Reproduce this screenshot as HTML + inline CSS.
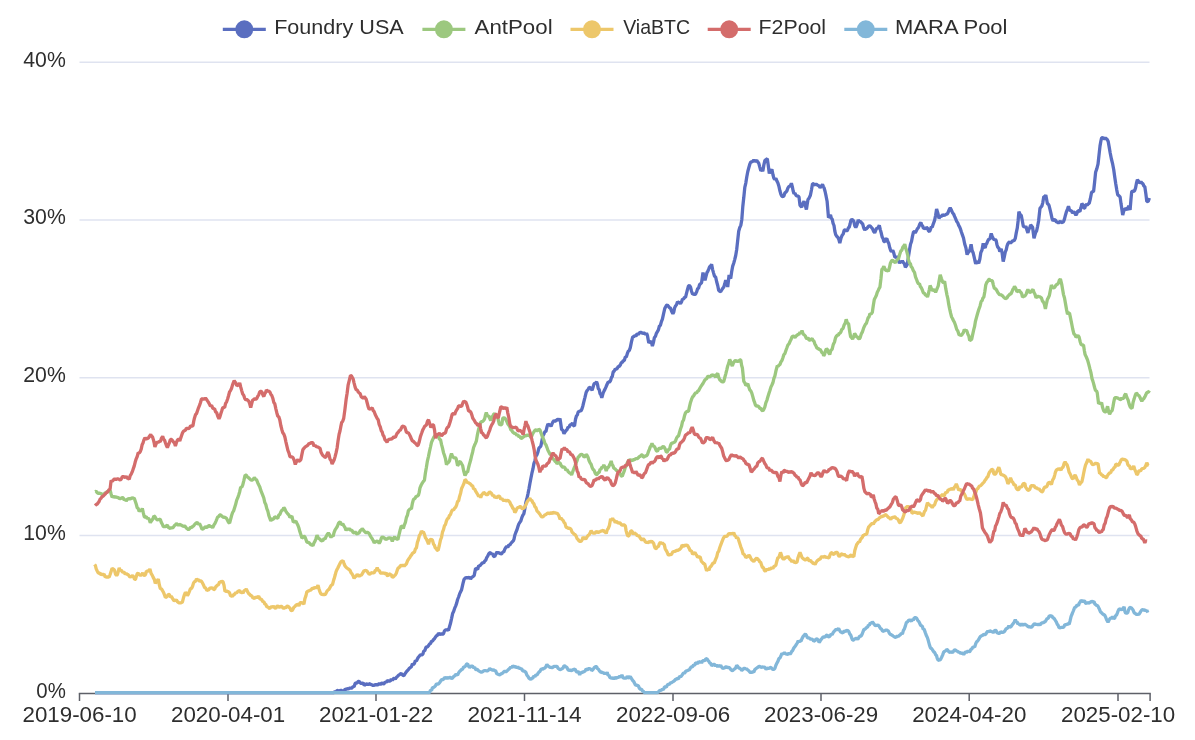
<!DOCTYPE html>
<html><head><meta charset="utf-8"><title>Pool share</title>
<style>
html,body{margin:0;padding:0;background:#fff;}
body{width:1195px;height:740px;overflow:hidden;}
svg{display:block}
.ax{font-family:"Liberation Sans","DejaVu Sans",sans-serif;font-size:21.5px;fill:#2e2e2e;}
.lg{font-family:"Liberation Sans","DejaVu Sans",sans-serif;font-size:21px;fill:#2e2e2e;}
</style></head><body>
<svg width="1195" height="740" viewBox="0 0 1195 740">
<rect width="1195" height="740" fill="#fff"/>
<line x1="79.5" x2="1149.5" y1="62.2" y2="62.2" stroke="#dfe3f0" stroke-width="1.5"/><line x1="79.5" x2="1149.5" y1="220" y2="220" stroke="#dfe3f0" stroke-width="1.5"/><line x1="79.5" x2="1149.5" y1="377.8" y2="377.8" stroke="#dfe3f0" stroke-width="1.5"/><line x1="79.5" x2="1149.5" y1="535.4" y2="535.4" stroke="#dfe3f0" stroke-width="1.5"/>
<line x1="78.8" x2="1150.8" y1="693.5" y2="693.5" stroke="#5e6068" stroke-width="1.5"/>
<line x1="79.5" x2="79.5" y1="693.5" y2="701" stroke="#5e6068" stroke-width="1.5"/><line x1="228" x2="228" y1="693.5" y2="701" stroke="#5e6068" stroke-width="1.5"/><line x1="376" x2="376" y1="693.5" y2="701" stroke="#5e6068" stroke-width="1.5"/><line x1="524.5" x2="524.5" y1="693.5" y2="701" stroke="#5e6068" stroke-width="1.5"/><line x1="673" x2="673" y1="693.5" y2="701" stroke="#5e6068" stroke-width="1.5"/><line x1="821" x2="821" y1="693.5" y2="701" stroke="#5e6068" stroke-width="1.5"/><line x1="969.2" x2="969.2" y1="693.5" y2="701" stroke="#5e6068" stroke-width="1.5"/><line x1="1118" x2="1118" y1="693.5" y2="701" stroke="#5e6068" stroke-width="1.5"/><line x1="1150.1" x2="1150.1" y1="693.5" y2="701" stroke="#5e6068" stroke-width="1.5"/>
<text x="23.299999999999997" y="66.6" class="ax" textLength="42.5" lengthAdjust="spacingAndGlyphs">40%</text><text x="23.299999999999997" y="224.4" class="ax" textLength="42.5" lengthAdjust="spacingAndGlyphs">30%</text><text x="23.299999999999997" y="382.2" class="ax" textLength="42.5" lengthAdjust="spacingAndGlyphs">20%</text><text x="23.299999999999997" y="539.8" class="ax" textLength="42.5" lengthAdjust="spacingAndGlyphs">10%</text><text x="36.3" y="697.5" class="ax" textLength="29.5" lengthAdjust="spacingAndGlyphs">0%</text>
<text x="22.5" y="721.5" class="ax" textLength="114.2" lengthAdjust="spacingAndGlyphs">2019-06-10</text><text x="171.0" y="721.5" class="ax" textLength="114.2" lengthAdjust="spacingAndGlyphs">2020-04-01</text><text x="319.0" y="721.5" class="ax" textLength="114.2" lengthAdjust="spacingAndGlyphs">2021-01-22</text><text x="467.5" y="721.5" class="ax" textLength="114.2" lengthAdjust="spacingAndGlyphs">2021-11-14</text><text x="616.0" y="721.5" class="ax" textLength="114.2" lengthAdjust="spacingAndGlyphs">2022-09-06</text><text x="764.0" y="721.5" class="ax" textLength="114.2" lengthAdjust="spacingAndGlyphs">2023-06-29</text><text x="912.2" y="721.5" class="ax" textLength="114.2" lengthAdjust="spacingAndGlyphs">2024-04-20</text><text x="1061.0" y="721.5" class="ax" textLength="114.2" lengthAdjust="spacingAndGlyphs">2025-02-10</text>
<polyline points="95,692.6 96.0,692.6 97.0,692.6 98.0,692.6 99.0,692.6 100.0,692.6 101.0,692.6 102.0,692.6 103.0,692.6 104.0,692.6 105.0,692.6 106.0,692.6 107.0,692.6 108.0,692.6 109.0,692.6 110.0,692.6 111.0,692.6 112.0,692.6 113.0,692.6 114.0,692.6 115.0,692.6 116.0,692.6 117.0,692.6 118.0,692.6 119.0,692.6 120.0,692.6 121.0,692.6 122.0,692.6 123.0,692.6 124.0,692.6 125.0,692.6 126.0,692.6 127.0,692.6 128.0,692.6 129.0,692.6 130.0,692.6 131.0,692.6 132.0,692.6 133.0,692.6 134.0,692.6 135.0,692.6 136.0,692.6 137.0,692.6 138.0,692.6 139.0,692.6 140.0,692.6 141.0,692.6 142.0,692.6 143.0,692.6 144.0,692.6 145.0,692.6 146.0,692.6 147.0,692.6 148.0,692.6 149.0,692.6 150.0,692.6 151.0,692.6 152.0,692.6 153.0,692.6 154.0,692.6 155.0,692.6 156.0,692.6 157.0,692.6 158.0,692.6 159.0,692.6 160.0,692.6 161.0,692.6 162.0,692.6 163.0,692.6 164.0,692.6 165.0,692.6 166.0,692.6 167.0,692.6 168.0,692.6 169.0,692.6 170.0,692.6 171.0,692.6 172.0,692.6 173.0,692.6 174.0,692.6 175.0,692.6 176.0,692.6 177.0,692.6 178.0,692.6 179.0,692.6 180.0,692.6 181.0,692.6 182.0,692.6 183.0,692.6 184.0,692.6 185.0,692.6 186.0,692.6 187.0,692.6 188.0,692.6 189.0,692.6 190.0,692.6 191.0,692.6 192.0,692.6 193.0,692.6 194.0,692.6 195.0,692.6 196.0,692.6 197.0,692.6 198.0,692.6 199.0,692.6 200.0,692.6 201.0,692.6 202.0,692.6 203.0,692.6 204.0,692.6 205.0,692.6 206.0,692.6 207.0,692.6 208.0,692.6 209.0,692.6 210.0,692.6 211.0,692.6 212.0,692.6 213.0,692.6 214.0,692.6 215.0,692.6 216.0,692.6 217.0,692.6 218.0,692.6 219.0,692.6 220.0,692.6 221.0,692.6 222.0,692.6 223.0,692.6 224.0,692.6 225.0,692.6 226.0,692.6 227.0,692.6 228.0,692.6 229.0,692.6 230.0,692.6 231.0,692.6 232.0,692.6 233.0,692.6 234.0,692.6 235.0,692.6 236.0,692.6 237.0,692.6 238.0,692.6 239.0,692.6 240.0,692.6 241.0,692.6 242.0,692.6 243.0,692.6 244.0,692.6 245.0,692.6 246.0,692.6 247.0,692.6 248.0,692.6 249.0,692.6 250.0,692.6 251.0,692.6 252.0,692.6 253.0,692.6 254.0,692.6 255.0,692.6 256.0,692.6 257.0,692.6 258.0,692.6 259.0,692.6 260.0,692.6 261.0,692.6 262.0,692.6 263.0,692.6 264.0,692.6 265.0,692.6 266.0,692.6 267.0,692.6 268.0,692.6 269.0,692.6 270.0,692.6 271.0,692.6 272.0,692.6 273.0,692.6 274.0,692.6 275.0,692.6 276.0,692.6 277.0,692.6 278.0,692.6 279.0,692.6 280.0,692.6 281.0,692.6 282.0,692.6 283.0,692.6 284.0,692.6 285.0,692.6 286.0,692.6 287.0,692.6 288.0,692.6 289.0,692.6 290.0,692.6 291.0,692.6 292.0,692.6 293.0,692.6 294.0,692.6 295.0,692.6 296.0,692.6 297.0,692.6 298.0,692.6 299.0,692.6 300.0,692.6 301.0,692.6 302.0,692.6 303.0,692.6 304.0,692.6 305.0,692.6 306.0,692.6 307.0,692.6 308.0,692.6 309.0,692.6 310.0,692.6 311.0,692.6 312.0,692.6 313.0,692.6 314.0,692.6 315.0,692.6 316.0,692.6 317.0,692.6 318.0,692.6 319.0,692.6 320.0,692.6 321.0,692.6 322.0,692.6 323.0,692.6 324.0,692.6 325.0,692.6 326.0,692.6 327.0,692.6 328.0,692.6 329.0,692.6 330.0,692.6 331.0,692.6 332.0,692.6 333.0,692.6 334.0,692.6 335.1,691.3 336.1,691.9 337.1,690.5 338.1,690.6 339.1,691.9 340.1,690.6 341.1,690.2 342.1,690.8 343.1,691.0 344.1,690.6 345.1,689.2 346.1,689.5 347.1,688.7 348.1,688.8 349.1,688.6 350.1,687.6 351.1,688.6 352.1,687.7 353.1,686.6 354.1,686.7 355.1,683.5 356.1,682.9 357.2,683.0 358.2,681.4 359.2,681.3 360.2,682.9 361.2,683.5 362.2,683.2 363.2,683.0 364.2,685.4 365.2,684.5 366.2,684.1 367.2,683.8 368.2,684.9 369.2,683.7 370.2,684.0 371.2,684.7 372.2,684.9 373.2,685.8 374.2,684.9 375.2,685.1 376.2,684.1 377.2,685.1 378.2,684.5 379.2,683.4 380.3,684.6 381.3,683.4 382.3,683.1 383.3,683.9 384.3,683.4 385.3,681.8 386.3,682.5 387.3,680.5 388.3,681.0 389.3,681.1 390.3,681.2 391.3,678.9 392.3,680.4 393.3,678.8 394.3,678.0 395.3,679.1 396.3,677.5 397.5,676.4 398.7,675.1 399.6,674.6 400.4,673.8 401.3,673.5 402.2,674.6 403.0,675.4 403.9,675.6 405.1,673.6 406.4,671.8 407.4,670.6 408.4,669.6 409.4,668.3 410.4,667.5 411.4,666.7 412.4,663.9 413.4,664.4 414.4,663.5 415.4,660.5 416.4,660.9 417.4,658.9 418.4,657.2 419.4,656.0 420.4,654.8 421.6,654.9 422.8,654.3 423.8,651.0 424.8,650.7 425.7,647.9 426.5,646.9 427.4,647.0 428.4,645.8 429.5,644.0 430.5,643.5 431.5,641.3 432.5,641.2 433.5,639.6 434.5,638.7 435.5,637.0 436.5,635.7 437.5,635.2 438.5,633.2 439.5,634.0 440.5,634.5 441.5,633.6 442.5,634.4 443.5,633.7 444.5,630.8 445.5,629.8 446.5,629.8 447.5,629.7 448.5,630.2 449.5,626.7 450.5,623.3 451.6,618.3 452.6,613.6 453.6,611.6 454.6,608.4 455.6,606.1 456.6,603.4 457.6,599.5 458.6,597.0 459.6,593.9 460.6,591.8 461.6,589.7 463.0,583.4 464.0,579.5 465.0,578.2 465.9,577.5 466.8,578.0 467.7,577.6 468.6,578.0 469.6,577.0 470.6,579.1 471.6,577.5 472.5,576.9 473.3,576.3 474.2,575.3 475.6,568.4 476.6,568.8 477.7,569.2 478.7,565.8 479.7,565.9 480.7,564.8 481.7,563.6 482.7,562.5 483.7,562.8 484.7,561.1 485.7,560.3 486.7,557.7 487.7,556.2 488.7,553.9 489.7,552.8 490.6,552.5 491.4,554.5 492.3,553.4 493.5,556.0 494.7,556.7 495.9,553.8 497.1,551.8 498.0,553.7 498.8,552.5 499.7,553.3 500.8,553.9 501.8,553.6 502.8,552.0 503.8,551.9 504.8,549.2 505.8,547.5 506.8,546.5 507.8,547.3 508.8,544.8 509.8,545.2 510.8,543.5 512.0,542.2 513.2,540.9 514.0,539.3 514.8,535.3 515.8,532.5 516.8,530.2 517.8,526.9 518.8,524.0 519.8,522.4 520.8,521.0 521.8,517.7 522.8,515.3 523.8,513.9 524.8,509.0 525.9,502.2 526.9,498.8 527.9,494.1 528.9,489.1 529.9,483.5 530.9,478.2 531.9,473.2 532.9,469.2 533.9,463.6 534.9,460.7 535.9,456.2 536.9,454.8 537.9,452.2 538.9,448.2 539.9,447.2 540.9,445.9 541.9,440.7 542.9,435.7 543.9,434.1 544.9,431.7 545.9,431.5 546.9,427.3 547.9,423.9 548.9,425.0 550.0,424.8 551.0,426.4 552.0,423.9 553.0,421.8 554.0,420.6 555.0,421.4 556.0,420.7 557.0,419.8 558.0,419.3 559.0,420.1 560.0,418.6 560.8,423.9 561.6,429.4 562.8,430.3 564.0,433.8 565.0,432.0 566.0,430.6 567.0,429.7 568.0,427.1 569.0,427.4 570.0,424.9 571.2,424.7 572.5,423.0 573.5,425.5 574.5,426.1 575.5,419.3 576.5,415.8 577.4,414.9 578.2,411.8 579.1,411.5 580.1,410.8 581.1,410.8 582.0,408.8 582.8,406.2 583.7,402.3 584.9,397.6 586.1,392.6 587.1,390.6 588.1,389.5 589.1,387.6 590.1,387.5 591.1,388.7 592.1,390.3 593.1,387.0 594.1,383.8 595.4,383.1 596.6,381.9 597.5,384.4 598.3,388.7 599.2,389.7 600.1,393.8 600.9,394.8 601.8,397.7 603.2,392.9 604.1,390.9 604.9,389.4 605.8,387.4 607.0,384.5 608.2,381.8 609.4,382.2 610.6,380.5 611.5,377.4 612.3,376.4 613.2,371.9 614.2,371.1 615.2,369.0 616.2,369.3 617.2,368.5 618.2,366.5 619.2,366.6 620.3,365.1 621.3,362.5 622.3,362.4 623.3,360.6 624.3,360.5 625.3,356.9 626.3,356.9 627.3,353.7 628.3,351.2 629.3,350.4 630.3,347.6 631.5,341.7 632.7,336.9 633.8,336.7 634.8,335.4 635.9,336.2 637.1,333.7 638.3,334.4 639.5,332.8 640.7,332.3 641.8,332.8 642.8,333.5 643.9,332.9 644.8,333.6 645.6,334.5 646.5,333.1 647.4,335.4 648.8,343.0 649.8,341.9 650.8,341.4 651.6,342.8 652.4,346.0 653.4,342.6 654.4,337.5 655.4,336.4 656.4,333.3 657.4,331.6 658.4,329.9 659.4,326.0 660.4,325.3 661.4,321.6 662.4,319.1 663.6,313.6 664.8,308.4 665.7,306.8 666.5,305.4 667.4,304.8 668.4,306.3 669.5,307.7 670.5,308.1 671.7,311.5 672.9,313.8 673.8,312.0 674.6,307.9 675.5,306.0 676.5,304.8 677.5,301.8 678.5,302.7 679.5,302.4 680.5,303.7 681.5,302.0 682.5,299.0 683.5,299.2 684.5,297.3 685.5,297.3 686.5,293.4 687.5,289.4 688.5,285.9 689.5,285.4 690.5,287.0 691.5,291.2 692.6,294.2 693.6,294.0 694.6,294.6 695.6,294.0 696.6,291.9 697.6,288.8 698.6,287.9 699.6,284.6 700.6,283.8 701.6,282.6 703.0,272.5 704.0,276.9 705.0,280.3 706.0,276.4 707.0,272.5 707.9,271.2 708.7,269.2 709.6,266.9 710.6,266.1 711.6,264.3 712.6,269.6 713.6,273.1 714.6,276.5 715.6,276.8 716.6,281.5 717.7,285.5 718.7,290.3 719.7,291.2 720.7,291.6 721.7,290.0 722.7,288.3 723.7,287.2 724.7,284.1 725.7,280.2 726.7,282.3 727.7,287.0 729.1,275.0 729.9,277.5 730.7,278.5 731.7,271.5 732.7,266.1 733.7,263.2 734.7,259.6 735.7,255.5 736.7,249.4 737.7,240.4 738.7,231.3 739.7,227.8 740.8,225.4 741.8,219.7 742.8,206.5 743.8,197.3 744.8,187.4 745.8,183.1 746.8,176.8 747.8,171.5 748.8,167.8 749.8,164.2 750.8,161.9 751.8,161.9 752.8,161.3 753.8,160.0 754.8,161.2 755.8,161.2 756.8,160.4 757.8,162.0 758.8,163.3 759.8,167.1 760.8,170.8 761.8,169.7 762.8,171.1 763.8,165.2 764.9,160.5 766.1,159.5 767.3,158.7 768.3,165.8 769.3,173.5 770.2,171.0 771.0,170.8 771.9,169.2 772.9,174.5 773.9,178.3 774.9,179.6 775.9,178.2 776.9,181.1 777.9,183.1 778.9,186.2 779.9,190.8 780.9,194.2 781.9,196.2 782.9,196.6 783.9,196.1 784.9,192.8 785.9,192.1 786.9,190.9 788.0,187.8 789.0,186.3 790.2,186.2 791.4,183.3 792.3,186.6 793.1,190.8 794.0,193.7 795.0,193.0 796.0,195.5 797.0,195.9 798.0,196.2 799.0,196.9 800.0,205.4 800.8,206.2 801.6,207.2 802.8,203.8 804.0,201.3 805.2,205.1 806.4,209.5 807.2,204.2 808.0,199.5 809.2,197.9 810.4,195.3 811.5,189.7 812.5,183.8 813.4,183.7 814.2,184.9 815.1,184.5 816.0,184.2 816.8,184.6 817.7,185.3 818.9,185.8 820.1,187.7 821.3,186.1 822.5,184.4 823.4,186.6 824.2,188.3 825.1,191.5 826.1,196.2 827.1,201.2 828.5,217.7 829.5,216.7 830.5,214.9 831.4,218.4 832.2,219.2 833.1,223.3 834.0,225.5 834.8,231.0 835.7,234.6 836.8,236.4 837.8,237.2 838.8,239.4 839.8,243.2 841.0,238.1 842.2,235.2 843.2,234.0 844.2,230.2 845.4,229.9 846.6,230.9 847.5,230.3 848.3,227.9 849.2,227.2 850.1,224.0 850.9,220.4 851.8,219.5 852.8,220.0 853.8,221.3 854.8,225.8 855.8,227.5 857.0,224.8 858.2,220.0 859.5,221.5 860.7,221.7 861.7,223.1 862.7,224.0 863.7,227.8 864.7,230.0 865.6,228.9 866.4,228.8 867.3,227.9 868.3,226.6 869.3,225.7 870.3,226.2 871.5,227.5 872.7,229.1 873.7,231.5 874.7,232.8 875.6,230.6 876.4,228.6 877.3,228.2 878.3,227.4 879.3,225.3 880.3,229.6 881.3,233.3 882.2,237.1 883.0,238.4 883.9,241.6 884.9,241.7 885.8,239.4 886.8,238.6 887.8,241.5 888.8,243.5 889.7,247.6 890.5,250.1 891.4,251.6 892.8,250.4 893.8,253.1 894.8,257.0 895.7,257.2 896.5,257.6 897.4,256.3 898.4,259.7 899.4,263.2 900.4,261.3 901.4,262.2 902.4,260.9 903.4,262.6 904.4,263.7 905.4,267.2 906.4,265.8 907.4,264.1 908.5,256.3 909.5,249.9 910.5,244.3 911.5,241.5 912.5,236.1 913.5,231.8 914.4,231.6 915.2,232.8 916.1,231.4 917.3,228.9 918.5,227.5 919.7,224.2 920.9,222.5 921.8,225.3 922.6,225.9 923.5,228.4 924.5,228.3 925.5,228.7 926.5,227.4 927.5,228.2 928.5,230.8 929.5,231.6 930.4,229.5 931.3,226.9 932.2,227.3 933.4,223.6 934.6,220.4 935.6,215.5 936.6,209.1 937.8,212.9 939.0,218.4 939.9,216.6 940.7,216.1 941.6,216.3 942.6,214.6 943.6,215.3 944.6,215.1 945.6,214.7 946.6,214.1 947.6,213.7 948.5,211.3 949.3,209.3 950.2,207.9 951.4,210.1 952.6,212.9 953.6,214.0 954.6,216.4 955.7,218.9 956.7,221.5 957.7,222.7 958.7,225.4 959.7,227.1 960.6,229.4 961.4,232.0 962.3,234.6 963.5,238.0 964.7,244.0 965.9,247.7 967.1,254.6 968.1,252.6 969.1,251.6 970.1,249.2 971.1,244.3 972.1,250.5 973.1,252.7 974.0,256.3 974.8,260.0 975.7,263.8 976.7,262.0 977.7,262.1 978.7,263.3 979.8,259.3 980.8,252.7 982.0,250.0 983.2,243.4 984.2,246.6 985.2,247.9 986.1,244.2 986.9,243.3 987.8,240.8 988.8,239.1 989.8,239.4 991.2,233.5 992.2,236.4 993.2,238.3 994.2,240.0 995.2,239.4 996.1,240.3 996.9,244.4 997.8,247.3 998.8,247.9 999.8,251.7 1001.2,248.8 1002.2,253.5 1003.2,261.6 1004.2,257.3 1005.3,251.9 1006.2,249.8 1007.0,246.1 1007.9,243.7 1008.8,242.4 1009.6,241.9 1010.5,243.2 1011.7,241.9 1012.9,240.5 1014.1,240.9 1015.3,238.3 1016.3,232.6 1017.3,227.9 1018.1,221.0 1018.9,211.7 1020.1,214.4 1021.3,215.5 1022.3,220.7 1023.3,226.2 1024.2,226.7 1025.0,227.2 1025.9,226.3 1026.9,230.0 1027.9,232.9 1028.8,229.3 1029.7,228.1 1030.6,225.0 1031.6,226.0 1032.6,227.3 1034.0,238.3 1034.9,235.1 1035.7,232.3 1036.6,230.8 1037.6,226.3 1038.6,221.0 1040.0,208.3 1040.9,207.2 1041.8,206.2 1042.8,202.6 1043.8,196.6 1044.8,196.6 1045.8,195.1 1046.6,199.3 1047.4,203.7 1048.2,204.1 1049.0,205.4 1050.0,209.3 1051.0,213.6 1052.0,218.4 1053.0,220.8 1054.2,219.6 1055.4,220.0 1056.4,222.0 1057.4,222.2 1058.4,223.0 1059.4,222.1 1060.4,221.0 1061.4,222.6 1062.5,222.2 1063.5,221.7 1064.5,218.9 1065.5,214.9 1066.5,211.6 1067.5,209.1 1068.5,206.2 1069.5,209.9 1070.5,210.5 1071.5,210.8 1072.5,213.1 1073.5,211.9 1074.7,212.5 1075.9,215.3 1076.9,213.4 1077.9,210.7 1078.9,210.9 1079.9,211.5 1080.9,207.8 1081.9,203.6 1082.9,204.9 1083.9,208.1 1084.8,208.1 1085.6,204.7 1086.5,204.8 1087.4,204.9 1088.3,203.7 1089.2,203.4 1090.4,198.5 1091.6,192.3 1092.6,191.8 1093.6,191.3 1094.6,182.2 1095.6,172.3 1096.8,168.8 1098.0,164.2 1099.0,155.1 1100.0,146.1 1100.8,141.5 1101.6,137.9 1102.6,137.7 1103.6,138.1 1104.6,138.9 1105.5,138.0 1106.3,138.7 1107.2,139.5 1108.2,141.5 1109.2,147.1 1110.2,153.0 1111.3,158.5 1112.5,163.3 1113.7,169.5 1114.7,176.8 1115.7,183.6 1116.7,189.6 1117.7,194.7 1118.9,195.8 1120.1,196.9 1121.0,203.6 1121.8,208.8 1122.7,215.1 1123.7,211.2 1124.7,209.1 1125.6,208.8 1126.4,208.7 1127.3,209.9 1128.7,205.8 1130.1,209.9 1130.9,200.2 1131.7,191.7 1132.7,191.1 1133.7,191.3 1134.7,190.6 1135.6,187.8 1136.5,183.0 1137.4,179.7 1138.6,181.2 1139.8,183.1 1141.0,181.9 1142.2,183.3 1143.1,184.1 1143.9,186.2 1144.8,186.5 1145.8,193.4 1146.8,201.5 1148.2,201.4 1149.4,198.0" fill="none" stroke="#5a6ec0" stroke-width="3.3" stroke-linejoin="bevel" stroke-linecap="butt"/>
<polyline points="95.1,491.7 96.1,491.2 97.1,492.7 98.1,493.3 99.1,493.0 100.1,493.4 101.1,493.7 102.1,494.5 103.1,494.2 104.1,494.0 105.1,492.8 106.1,492.9 107.1,491.6 108.1,491.5 109.1,491.1 110.1,490.2 111.1,494.0 112.1,497.2 113.1,496.4 114.2,497.2 115.2,496.7 116.2,497.2 117.2,497.4 118.2,497.6 119.2,498.4 120.2,498.6 121.2,498.2 122.2,497.5 123.2,497.8 124.2,500.1 125.2,499.4 126.2,501.0 127.2,499.6 128.2,498.7 129.2,499.0 130.2,498.4 131.2,498.9 132.2,497.4 133.2,498.5 134.2,498.1 135.2,501.0 136.2,504.0 137.2,507.7 138.2,508.6 139.2,511.6 140.2,510.1 141.3,510.8 142.3,508.4 143.3,512.9 144.3,516.8 145.3,517.1 146.3,516.6 147.3,518.7 148.3,518.0 149.3,519.7 150.3,522.8 151.2,521.2 152.1,520.0 153.0,518.6 153.9,515.9 155.0,516.8 156.2,519.0 157.3,519.8 158.3,519.7 159.3,519.5 160.3,519.2 161.3,522.4 162.3,524.2 163.3,526.5 164.3,526.6 165.4,526.6 166.4,525.8 167.4,525.3 168.4,527.5 169.4,527.9 170.4,528.4 171.4,527.4 172.4,527.9 173.4,527.1 174.4,525.6 175.4,524.9 176.4,523.6 177.4,524.3 178.4,525.3 179.4,524.3 180.4,524.7 181.4,525.2 182.4,525.8 183.4,526.4 184.4,525.9 185.4,526.6 186.4,528.2 187.4,528.8 188.4,529.6 189.5,528.7 190.5,527.3 191.5,527.6 192.5,526.7 193.5,526.0 194.5,524.6 195.5,523.6 196.5,522.8 197.5,522.5 198.5,524.6 199.5,523.6 200.4,525.4 201.2,527.2 202.1,529.2 203.2,529.0 204.4,527.7 205.5,526.5 206.5,527.4 207.5,527.0 208.5,525.6 209.5,525.7 210.6,526.9 211.6,526.2 212.6,527.8 213.8,525.2 215.0,523.4 215.9,521.3 216.7,519.4 217.6,517.2 218.6,516.6 219.6,515.0 220.6,515.0 221.6,515.9 222.6,516.7 223.6,517.5 224.6,517.2 225.6,517.7 226.6,518.6 227.6,520.5 228.6,522.4 229.6,523.1 230.6,519.3 231.6,515.5 232.6,512.5 233.6,510.9 234.6,507.7 235.6,504.6 236.7,500.1 237.7,497.9 238.7,494.9 239.7,491.7 240.7,487.0 241.7,487.2 242.7,485.1 243.9,480.4 245.1,475.0 246.2,475.2 247.2,476.9 248.3,477.5 249.3,478.4 250.3,479.5 251.3,480.2 252.3,480.1 253.3,479.1 254.3,477.6 255.4,479.1 256.6,479.9 257.7,482.7 258.7,484.8 259.8,487.0 260.8,490.4 261.8,492.9 262.8,495.4 263.8,498.0 264.8,502.6 265.8,504.5 266.8,508.7 267.8,511.0 268.8,515.4 269.8,518.2 270.8,520.8 271.8,519.2 272.8,519.3 273.8,518.6 274.8,516.9 275.8,517.2 276.8,518.0 277.8,518.2 278.8,515.0 279.8,514.5 280.8,512.1 281.8,510.2 282.8,510.1 283.8,507.5 284.8,508.8 285.9,511.4 286.9,512.8 287.9,514.1 288.9,515.0 289.9,517.5 290.9,516.8 291.9,516.1 293.3,522.2 294.2,521.7 295.0,521.6 295.9,521.2 296.9,523.3 297.9,525.2 298.9,528.0 299.9,531.8 300.9,534.7 301.9,538.1 302.9,537.3 303.9,536.0 304.9,536.9 305.9,539.4 306.9,542.2 307.9,542.4 308.9,542.4 309.9,543.7 311.0,544.9 312.0,544.9 313.0,545.7 314.0,542.8 315.0,541.1 316.0,538.5 317.0,535.1 318.0,537.3 319.0,538.9 320.0,538.9 321.0,540.8 322.0,540.6 323.0,540.4 324.0,538.6 325.0,539.0 326.0,536.8 327.2,534.5 328.4,532.9 329.3,534.2 330.1,536.0 331.0,537.3 332.1,535.6 333.1,536.4 334.1,532.4 335.1,529.8 336.1,528.3 337.3,526.5 338.5,523.4 339.4,522.3 340.2,522.0 341.1,524.0 342.0,524.6 342.8,523.7 343.7,525.6 344.9,527.4 346.1,530.5 347.1,528.3 348.1,529.9 349.1,528.5 350.1,530.0 351.1,530.2 352.1,530.5 353.1,532.5 354.1,532.8 355.1,531.8 356.1,533.2 357.2,534.2 358.2,533.1 359.2,532.8 360.2,530.7 361.2,530.0 362.2,528.7 363.2,529.8 364.2,531.2 365.2,532.2 366.2,532.7 367.2,532.3 368.2,532.8 369.2,533.6 370.2,535.7 371.2,537.4 372.2,538.8 373.2,540.5 374.2,542.7 375.2,541.9 376.2,541.4 377.2,540.9 378.2,541.8 379.2,543.3 380.2,541.7 381.3,538.2 382.3,536.8 383.3,537.7 384.3,537.7 385.3,539.5 386.3,538.9 387.3,539.0 388.3,537.9 389.3,538.3 390.3,537.5 391.3,538.6 392.3,541.4 393.5,538.3 394.7,536.7 395.8,538.7 396.8,538.9 397.9,539.7 399.3,533.5 400.3,529.4 401.3,526.1 402.3,526.5 403.3,528.4 404.4,524.8 405.4,522.3 406.4,517.5 407.4,515.3 408.4,510.7 409.4,509.7 410.4,508.4 411.4,508.9 412.4,503.3 413.4,499.6 414.3,498.9 415.1,498.4 416.0,496.5 417.2,496.2 418.4,495.3 419.2,492.4 420.0,487.8 421.2,485.0 422.4,482.9 423.4,481.4 424.4,480.2 425.4,473.0 426.4,467.3 427.4,461.1 428.5,456.3 429.5,451.4 430.5,447.0 431.5,442.4 432.5,440.0 433.7,437.5 434.9,435.6 435.8,435.0 436.6,434.5 437.5,435.1 438.5,436.7 439.5,439.4 440.5,439.5 441.5,444.4 442.5,448.2 443.5,452.7 444.5,455.5 445.5,458.9 446.5,464.8 447.5,462.8 448.5,462.4 449.5,460.9 450.5,456.5 451.5,453.6 452.4,456.1 453.3,457.1 454.2,458.0 455.2,457.4 456.2,458.8 457.6,465.7 458.5,464.4 459.3,461.9 460.2,461.6 461.4,463.5 462.6,465.5 463.8,471.3 465.0,475.5 465.9,473.9 466.7,472.0 467.6,472.1 468.6,467.5 469.6,463.7 470.6,460.3 471.6,455.9 472.6,452.2 473.6,447.5 474.5,445.3 475.4,443.4 476.3,441.2 477.5,434.3 478.7,428.9 479.7,425.8 480.7,422.3 481.7,421.6 482.7,421.3 483.7,420.3 484.6,419.0 485.4,415.3 486.3,412.6 487.5,416.0 488.7,415.8 489.7,418.3 490.7,420.5 491.7,416.9 492.7,416.5 493.7,414.3 494.7,413.5 495.7,415.2 496.7,415.0 497.6,416.9 498.4,420.3 499.3,424.2 500.6,424.9 501.8,424.5 502.8,418.1 503.8,417.9 504.8,418.1 505.8,419.4 506.8,421.5 507.8,424.0 508.8,425.2 509.8,426.8 510.8,429.7 511.8,430.5 512.8,432.2 513.8,432.9 514.8,433.4 515.8,433.8 516.8,435.3 517.8,434.7 518.8,436.7 519.8,436.4 520.8,438.2 521.8,438.3 522.8,437.3 523.9,436.6 524.9,435.7 525.9,435.9 526.9,435.0 527.9,435.5 528.9,435.0 529.9,435.8 530.9,437.7 531.9,435.7 532.9,433.3 533.9,431.9 534.9,430.3 535.9,429.9 536.9,430.6 537.9,430.7 538.9,429.2 539.9,429.8 540.9,432.6 541.9,435.5 542.9,437.8 543.9,440.1 544.9,443.4 545.9,444.7 546.9,447.3 547.9,450.2 549.0,452.3 550.0,454.3 551.0,454.7 552.0,456.8 553.0,459.6 554.0,459.0 555.0,461.5 556.0,461.8 557.0,463.7 558.0,462.8 559.0,462.7 560.0,463.0 561.0,465.2 562.0,466.6 563.0,467.3 564.0,466.9 565.0,467.9 566.0,470.3 567.0,469.4 568.0,471.4 569.0,472.5 569.9,473.0 570.7,473.4 571.6,475.0 572.9,471.3 574.1,468.0 575.1,465.5 576.1,462.8 577.1,460.5 578.1,457.2 579.1,456.5 580.0,455.1 580.8,454.5 581.7,454.2 582.9,455.2 584.1,457.1 585.1,456.4 586.1,454.4 587.1,455.4 588.1,457.4 589.1,460.7 590.1,462.9 591.1,464.3 592.1,467.5 593.1,469.4 594.1,470.2 595.2,473.3 596.2,474.6 597.2,474.3 598.2,472.5 599.2,472.5 600.1,469.1 600.9,469.3 601.8,467.1 602.8,467.4 603.8,465.0 605.0,467.1 606.2,471.0 607.4,467.7 608.6,467.0 609.5,465.1 610.3,463.6 611.2,461.0 612.1,464.7 612.9,465.6 613.8,468.3 615.0,468.7 616.2,470.2 617.2,470.7 618.2,471.2 619.2,472.5 620.2,473.7 621.3,475.9 622.3,476.3 623.3,473.3 624.3,470.9 625.3,467.2 626.3,465.8 627.3,462.7 628.3,461.3 629.3,460.1 630.3,459.8 631.3,460.0 632.3,460.9 633.3,459.5 634.3,459.8 635.3,458.9 636.3,458.7 637.3,458.6 638.3,457.8 639.3,456.7 640.3,456.2 641.3,455.0 642.3,455.0 643.3,457.0 644.3,456.9 645.3,455.9 646.4,455.8 647.4,454.7 648.4,451.7 649.4,449.4 650.3,446.8 651.1,445.8 652.0,443.4 653.2,446.2 654.4,446.4 655.4,448.5 656.4,450.8 657.4,451.3 658.4,449.2 659.4,447.9 660.4,448.5 661.4,448.1 662.4,447.0 663.4,446.4 664.4,447.4 665.4,449.4 666.4,452.1 667.4,451.9 668.5,449.5 669.5,449.4 670.5,445.4 671.5,443.2 672.5,443.2 673.5,442.5 674.5,442.2 675.5,440.9 676.5,438.2 677.5,436.7 678.5,436.0 679.5,432.4 680.5,429.0 681.5,426.3 682.5,421.6 683.5,420.1 684.5,415.8 685.5,412.9 686.5,411.7 687.5,411.4 688.5,411.4 689.5,406.6 690.5,402.4 691.5,399.4 692.6,396.8 693.6,395.9 694.6,394.1 695.6,392.7 696.6,393.1 697.6,391.2 698.6,390.7 699.6,388.8 700.6,387.0 701.6,385.4 702.6,384.1 703.6,382.3 704.6,380.4 705.6,379.2 706.6,379.0 707.6,376.3 708.6,376.4 709.6,377.0 710.6,376.2 711.6,374.9 712.6,375.3 713.6,375.2 714.6,375.9 715.6,377.1 716.7,374.3 717.7,373.3 718.7,377.4 719.7,379.7 720.7,380.6 721.7,381.7 722.7,381.9 723.7,381.6 724.7,377.8 725.7,374.1 726.7,370.1 727.7,366.0 728.7,363.4 729.7,359.5 730.6,361.5 731.4,364.0 732.3,366.0 733.5,362.7 734.7,361.1 735.7,360.6 736.7,361.5 737.7,361.1 738.7,361.5 739.8,359.8 740.8,359.9 741.6,365.2 742.4,368.0 743.8,381.3 744.8,382.8 745.8,385.5 746.8,384.8 747.8,383.6 748.8,387.0 749.8,390.0 750.8,390.8 751.8,393.1 752.8,396.6 753.8,400.4 754.7,402.7 755.5,405.2 756.4,406.2 757.6,405.9 758.8,406.6 759.8,408.3 760.8,408.4 761.8,410.1 762.8,410.9 763.8,409.3 764.8,407.1 765.9,402.7 766.9,400.3 767.9,396.8 768.9,393.6 769.9,390.5 770.9,387.1 771.9,385.0 772.9,382.8 773.9,378.4 774.9,375.8 776.1,370.2 777.3,365.8 778.2,366.5 779.0,365.0 779.9,364.7 780.9,361.9 781.9,360.6 782.9,357.7 783.9,354.6 784.9,353.6 785.9,350.5 786.9,347.8 788.0,344.8 789.0,343.8 790.0,341.5 791.0,339.6 792.0,336.8 793.0,336.1 794.0,336.6 795.0,337.5 796.0,336.0 797.0,335.4 798.0,334.2 799.0,334.5 800.0,332.3 801.0,333.4 802.0,330.5 803.2,334.2 804.4,335.0 805.3,336.0 806.1,337.8 807.0,338.8 808.0,337.6 809.0,340.0 810.0,340.0 811.0,339.5 812.1,338.6 813.1,340.5 814.0,341.3 814.8,343.8 815.7,345.3 816.9,348.0 818.1,348.6 819.1,349.5 820.1,349.3 821.1,351.0 822.0,352.7 822.8,353.0 823.7,355.8 824.6,354.4 825.6,350.5 826.5,348.6 827.6,349.9 828.6,352.6 829.7,354.5 830.9,350.4 832.1,349.3 833.3,344.4 834.5,342.0 835.5,337.9 836.6,335.9 837.5,335.1 838.3,335.3 839.2,333.3 840.1,333.3 840.9,331.9 841.8,329.4 843.0,328.4 844.2,324.8 845.2,323.2 846.2,319.3 847.4,323.1 848.6,323.7 849.6,330.9 850.6,336.6 851.6,337.7 852.6,339.2 853.6,336.8 854.6,333.6 855.5,334.6 856.3,336.6 857.2,336.8 858.2,338.2 859.2,339.1 860.2,337.6 861.3,333.9 862.3,332.2 863.5,328.4 864.7,325.7 865.6,324.0 866.4,323.4 867.3,320.4 868.2,317.6 869.0,317.2 869.9,313.7 871.1,314.2 872.3,312.4 873.3,305.4 874.3,299.4 875.3,297.5 876.3,295.5 877.3,292.2 878.2,290.5 879.0,288.7 879.9,287.2 880.9,279.0 881.9,269.4 882.9,268.3 883.9,266.3 885.1,269.6 886.4,270.6 887.4,270.2 888.4,271.4 889.4,267.8 890.4,263.1 891.6,260.6 892.8,260.3 893.7,261.5 894.5,262.0 895.4,262.6 896.4,261.0 897.4,259.3 898.4,259.0 899.6,254.8 900.8,251.1 901.8,250.2 902.8,247.2 903.8,246.1 904.8,244.2 905.8,248.6 906.8,251.6 907.7,255.0 908.6,259.8 909.5,263.2 910.4,263.6 911.2,266.9 912.1,267.5 913.3,270.6 914.5,272.4 915.5,276.8 916.5,279.3 917.5,282.1 918.5,283.8 919.5,283.6 920.4,286.7 921.2,287.6 922.1,289.4 923.3,292.7 924.5,293.4 925.5,295.1 926.5,295.2 927.5,297.1 928.4,293.9 929.2,290.1 930.1,285.5 931.4,288.5 932.6,290.6 933.6,289.9 934.6,290.1 935.6,292.3 936.5,290.2 937.3,288.2 938.2,286.0 939.2,280.4 940.2,274.7 941.4,278.6 942.6,281.9 943.6,282.8 944.6,281.2 945.8,288.9 947.0,295.1 947.9,298.9 948.7,304.2 949.6,308.6 950.6,313.2 951.6,317.0 952.5,318.5 953.3,320.4 954.2,321.8 955.5,325.3 956.7,329.4 957.9,331.2 959.1,334.9 960.0,334.9 960.8,335.3 961.7,335.1 962.6,333.7 963.4,332.5 964.3,329.6 965.2,330.8 966.2,330.0 967.1,331.6 968.0,334.6 968.8,335.7 969.7,340.4 970.7,339.9 971.7,339.1 972.7,334.3 973.7,329.9 974.6,326.4 975.4,321.5 976.3,318.1 977.5,313.7 978.7,309.8 980.0,306.2 981.2,301.3 982.1,300.7 982.9,298.1 983.8,297.2 984.8,291.8 985.8,284.8 986.8,282.4 987.8,281.2 988.7,279.4 989.5,279.4 990.4,281.0 991.4,280.3 992.4,281.0 993.4,285.1 994.4,288.6 995.6,288.6 996.8,290.5 997.8,292.5 998.8,293.8 999.8,295.1 1000.8,294.3 1001.8,295.3 1002.7,295.9 1003.5,297.0 1004.4,297.7 1005.3,298.8 1006.2,298.2 1007.1,297.7 1008.0,295.9 1008.9,295.4 1009.9,294.0 1010.9,294.0 1011.9,292.0 1012.8,289.5 1013.6,288.7 1014.5,286.2 1015.7,288.3 1016.9,291.8 1017.9,291.2 1018.9,289.9 1019.9,291.3 1020.8,292.3 1021.6,293.4 1022.5,297.1 1023.4,296.5 1024.4,296.2 1025.3,295.5 1026.2,294.0 1027.0,291.5 1027.9,289.5 1028.8,291.2 1029.7,292.4 1030.6,292.2 1031.8,290.7 1033.0,289.4 1034.0,292.5 1035.0,294.3 1036.0,297.8 1037.0,296.8 1038.0,296.4 1039.0,296.7 1040.0,296.9 1041.4,297.8 1042.4,301.0 1043.4,302.0 1044.4,304.5 1045.4,308.9 1046.4,303.8 1047.4,299.3 1048.4,297.6 1049.4,295.3 1050.4,290.0 1051.4,285.0 1052.4,287.3 1053.4,287.9 1054.6,287.5 1055.8,285.4 1056.7,284.6 1057.5,284.2 1058.4,283.2 1059.4,280.1 1060.4,279.0 1061.8,284.7 1062.7,290.0 1063.5,294.6 1064.5,298.0 1065.5,303.6 1066.5,309.4 1067.5,314.2 1068.5,313.0 1069.5,313.1 1070.5,317.9 1071.5,322.8 1072.7,329.0 1073.9,333.9 1074.9,334.7 1075.9,337.0 1077.0,336.5 1078.0,335.6 1079.1,337.0 1080.1,341.4 1081.1,344.4 1082.3,345.2 1083.5,345.0 1084.3,350.3 1085.1,354.6 1086.3,357.0 1087.6,360.1 1088.8,364.4 1090.0,369.2 1091.0,373.0 1092.0,378.6 1092.8,380.9 1093.6,383.6 1094.6,387.5 1095.6,390.9 1096.4,390.7 1097.2,392.6 1098.6,403.7 1099.6,402.9 1100.6,403.6 1101.6,402.6 1102.6,407.6 1103.6,410.6 1104.8,411.9 1106.0,411.9 1106.8,408.8 1107.6,406.2 1108.6,411.6 1109.6,414.2 1110.8,411.8 1112.1,410.6 1113.0,406.4 1113.8,401.9 1114.7,397.8 1115.6,397.6 1116.4,398.0 1117.3,397.5 1118.2,398.5 1119.2,398.8 1120.1,399.7 1121.0,399.5 1121.8,397.8 1122.7,398.8 1123.7,398.0 1124.7,395.1 1125.7,393.6 1126.9,397.6 1128.1,399.9 1129.1,403.9 1130.1,406.7 1131.1,407.9 1132.1,408.3 1133.1,402.2 1134.1,399.1 1135.2,395.4 1136.2,393.1 1137.1,393.7 1137.9,395.4 1138.8,395.3 1139.8,397.0 1140.8,399.3 1141.8,401.3 1142.8,399.4 1143.8,398.6 1144.8,396.9 1145.7,395.1 1146.5,393.1 1147.4,392.4 1148.4,392.2 1149.4,390.5" fill="none" stroke="#9cc87f" stroke-width="3.3" stroke-linejoin="bevel" stroke-linecap="butt"/>
<polyline points="94.5,564.4 95.4,565.6 96.2,568.9 97.1,570.8 98.1,572.7 99.1,573.4 100.1,573.1 101.1,574.9 102.1,574.0 103.1,574.8 104.1,574.2 105.1,576.8 106.1,576.7 107.1,577.2 108.1,576.9 109.1,577.2 110.1,574.5 111.1,571.4 112.1,568.3 113.3,569.1 114.5,570.1 115.5,574.0 116.6,575.7 117.5,574.3 118.3,571.4 119.2,567.8 120.2,570.5 121.2,569.9 122.2,571.8 123.2,572.1 124.2,572.3 125.2,574.4 126.2,573.4 127.2,574.5 128.2,574.7 129.2,576.1 130.2,577.3 131.4,576.4 132.6,575.5 133.6,576.9 134.6,579.5 135.5,579.3 136.4,576.1 137.3,573.6 138.2,573.2 139.2,574.7 140.3,575.1 141.5,575.0 142.7,572.9 143.7,575.1 144.7,575.4 145.6,574.2 146.4,571.2 147.3,571.4 148.2,570.7 149.0,570.8 149.9,568.9 151.1,573.4 152.3,575.3 153.3,577.6 154.3,579.4 155.3,583.4 156.3,581.8 157.3,580.5 158.3,579.1 159.3,584.8 160.3,588.5 161.5,589.0 162.7,590.9 163.6,592.6 164.5,594.9 165.4,597.4 166.4,596.9 167.4,596.0 168.4,594.3 169.4,594.6 170.4,597.2 171.4,596.3 172.3,598.2 173.1,599.5 174.0,600.6 175.2,600.4 176.4,599.9 177.4,601.6 178.4,602.4 179.4,602.9 180.4,602.9 181.4,602.6 182.4,602.0 183.4,598.1 184.4,594.8 185.4,592.3 186.4,593.4 187.4,595.7 188.4,593.9 189.5,591.1 190.5,588.5 191.5,588.5 192.5,586.5 193.5,583.1 194.5,581.5 195.5,581.3 196.5,578.8 197.5,579.8 198.5,579.8 199.5,581.2 200.5,580.8 201.5,581.2 202.5,583.0 203.5,584.9 204.5,587.5 205.7,588.1 206.9,590.6 207.8,590.0 208.7,589.8 209.6,588.4 210.5,587.8 211.5,588.3 212.6,587.7 213.6,589.4 214.6,589.5 215.6,587.0 216.6,586.0 217.6,585.1 218.6,584.5 219.6,581.7 220.6,582.2 221.8,581.2 223.0,581.8 224.0,585.3 225.0,591.6 225.9,591.2 226.8,590.9 227.7,591.8 228.6,591.6 229.6,593.0 230.6,596.1 231.6,595.8 232.6,596.4 233.6,594.6 234.6,594.4 235.6,592.6 236.6,593.2 237.6,591.6 238.7,591.0 239.7,590.6 240.8,592.7 242.0,592.1 243.1,593.2 244.2,590.5 245.2,590.2 246.3,589.0 247.5,591.7 248.7,593.6 249.7,594.4 250.7,595.6 251.7,595.6 252.7,597.7 253.7,598.0 254.7,598.6 255.7,596.7 256.7,597.5 257.7,597.1 258.7,596.3 259.8,598.7 260.8,599.1 261.8,599.7 262.8,601.7 263.8,601.6 264.8,604.0 265.8,604.3 266.8,606.9 267.8,606.9 268.8,607.9 269.8,608.6 270.8,607.3 271.8,606.4 272.8,607.5 273.8,606.0 274.8,607.9 275.8,608.3 276.8,606.7 277.8,605.8 278.8,607.0 279.8,607.1 280.8,606.3 281.8,606.4 282.8,607.9 283.9,608.3 284.9,607.7 285.9,607.6 286.9,606.4 287.9,606.0 288.9,607.3 289.9,607.9 290.9,610.3 291.9,610.8 292.9,609.3 293.9,607.3 294.9,606.5 295.9,605.2 296.9,604.6 297.9,604.4 298.9,606.0 299.9,603.1 300.9,602.6 301.9,602.9 302.9,603.2 303.9,604.1 304.9,598.6 305.9,595.9 306.9,591.7 307.9,591.3 309.0,590.7 310.0,590.3 311.0,589.9 312.0,588.6 313.0,588.2 314.0,588.4 315.0,587.2 316.0,587.9 317.0,587.2 318.0,585.3 319.0,588.9 320.0,592.1 321.0,594.0 322.0,594.4 323.0,594.5 324.0,594.5 325.0,594.7 326.0,593.3 327.0,591.1 328.0,590.0 329.2,589.1 330.4,586.7 331.4,585.1 332.5,584.5 333.4,581.1 334.2,578.6 335.1,575.3 336.0,571.8 336.8,569.9 337.7,568.3 338.9,565.7 340.1,563.3 341.1,561.5 342.1,561.2 343.1,560.6 344.0,563.6 344.8,565.5 345.7,566.9 346.9,568.0 348.1,568.8 349.1,569.6 350.1,570.5 351.1,572.9 352.1,573.9 353.1,575.8 354.1,578.3 355.1,576.8 356.2,576.1 357.2,574.3 358.2,575.5 359.2,576.3 360.2,575.2 361.2,575.5 362.2,573.8 363.2,572.1 364.1,570.6 364.9,570.7 365.8,570.4 366.9,571.0 368.1,572.7 369.2,574.2 370.2,573.9 371.2,572.7 372.2,573.0 373.2,572.8 374.2,572.9 375.2,570.5 376.2,570.1 377.2,567.6 378.2,570.4 379.3,570.3 380.3,572.7 381.3,573.6 382.3,572.5 383.3,573.2 384.3,573.2 385.3,573.7 386.2,572.7 387.0,575.3 387.9,575.9 389.1,573.8 390.3,574.5 391.3,574.9 392.3,577.3 393.3,576.9 394.3,575.8 395.3,575.0 396.3,573.2 397.3,570.0 398.3,567.8 399.3,567.6 400.3,565.7 401.3,565.3 402.3,566.1 403.3,564.7 404.3,566.0 405.4,564.9 406.4,563.8 407.6,560.7 408.8,558.8 409.7,557.7 410.5,556.2 411.4,555.2 412.4,553.4 413.4,552.5 414.4,552.3 415.4,548.9 416.4,547.9 417.4,542.4 418.4,539.6 419.4,535.4 420.4,534.1 421.4,531.1 422.4,532.2 423.4,531.8 424.4,534.3 425.4,537.7 426.4,539.0 427.5,541.5 428.5,544.2 429.5,540.5 430.5,539.6 431.5,539.2 432.5,540.4 433.5,544.2 434.4,545.2 435.2,547.8 436.1,548.4 437.1,550.1 438.1,550.4 439.3,545.5 440.5,539.8 441.5,537.4 442.5,532.0 443.5,529.6 444.5,525.7 445.5,524.4 446.5,520.7 447.5,518.7 448.5,518.1 449.5,515.4 450.5,514.5 451.6,511.3 452.6,509.7 453.6,510.1 454.6,508.2 455.6,507.3 456.6,505.1 457.6,501.4 458.6,500.8 459.6,496.4 460.6,493.2 461.6,488.4 462.7,486.2 463.9,483.5 465.0,479.7 465.9,480.1 466.8,482.0 467.7,482.5 468.6,482.8 469.6,483.5 470.6,484.1 471.6,485.5 472.6,485.8 473.6,489.0 474.6,488.8 475.6,491.2 476.7,492.9 477.7,494.5 478.7,496.5 479.7,495.4 480.7,497.6 481.7,495.0 482.7,493.7 483.7,492.4 484.7,493.1 485.7,494.2 486.7,494.7 487.7,494.6 488.7,492.9 489.7,491.9 490.7,492.7 491.7,493.7 492.7,495.9 493.7,495.2 494.7,497.6 495.7,496.8 496.6,497.6 497.4,497.3 498.3,496.0 499.6,496.3 500.8,499.4 501.8,498.3 502.8,499.9 503.8,500.9 504.8,499.7 505.8,500.9 506.8,500.6 507.8,500.2 508.8,501.1 509.8,502.2 510.8,504.5 511.8,506.0 512.8,508.2 513.8,509.1 514.8,512.6 515.8,511.2 516.8,508.8 517.8,507.5 518.8,507.3 519.8,506.7 520.8,506.7 521.8,508.3 522.8,508.6 523.8,508.0 524.8,507.0 525.9,504.8 526.9,502.3 527.9,500.7 528.9,499.5 529.9,498.4 530.9,500.2 531.9,500.5 532.9,502.8 533.9,503.7 534.9,506.8 535.9,507.6 536.9,510.8 537.9,511.8 538.9,512.9 539.9,514.2 540.9,516.0 541.9,516.9 542.9,516.8 543.9,516.0 544.9,514.8 545.9,514.7 547.0,513.5 548.0,513.1 549.0,513.6 550.0,513.4 551.0,512.5 552.0,514.0 553.0,512.1 554.0,512.9 555.0,512.4 556.0,513.5 557.0,513.0 558.0,514.2 559.0,516.0 560.0,519.4 561.0,518.1 562.0,519.3 563.0,520.3 564.0,522.3 565.0,523.4 566.0,527.1 567.0,527.5 568.0,528.1 569.0,528.5 570.0,528.2 571.1,529.5 572.1,532.3 573.1,532.9 574.1,534.2 575.1,534.6 576.1,536.2 577.1,538.7 578.1,539.5 579.1,541.0 580.1,541.4 581.1,541.4 582.1,539.9 583.1,536.9 584.0,538.3 584.8,538.0 585.7,539.2 586.9,537.2 588.1,535.4 589.1,534.8 590.1,533.0 591.1,530.5 592.1,532.1 593.1,533.1 594.1,533.2 595.1,533.1 596.2,531.3 597.2,532.0 598.2,532.4 599.2,531.9 600.2,531.5 601.2,531.0 602.2,530.8 603.2,529.9 604.2,531.8 605.2,531.8 606.2,533.5 607.2,529.9 608.2,528.5 609.4,525.6 610.6,518.8 611.6,520.5 612.6,518.2 613.5,520.2 614.3,520.2 615.2,522.8 616.2,521.6 617.2,522.1 618.2,523.3 619.2,522.7 620.3,523.1 621.5,524.9 622.7,525.2 623.6,524.6 624.4,525.1 625.3,525.9 626.2,531.1 627.0,534.0 627.9,536.2 628.8,535.8 629.8,533.7 630.7,530.9 631.6,531.0 632.4,531.8 633.3,534.4 634.3,532.8 635.3,533.6 636.3,534.2 637.3,536.0 638.3,535.5 639.3,536.2 640.2,538.0 641.0,539.2 641.9,539.9 643.1,538.6 644.4,540.1 645.4,542.0 646.4,542.3 647.4,542.4 648.4,542.5 649.4,541.5 650.4,542.0 651.6,541.0 652.8,542.3 653.7,543.5 654.5,546.6 655.4,548.7 656.4,548.4 657.4,546.6 658.4,546.8 659.4,543.6 660.4,542.2 661.4,543.6 662.4,543.0 663.4,544.0 664.3,544.6 665.1,548.4 666.0,550.2 667.0,551.9 668.1,554.6 669.0,555.2 670.0,554.3 670.9,554.8 671.8,553.9 672.6,552.1 673.5,551.7 674.5,551.5 675.5,551.1 676.5,550.5 677.5,550.4 678.5,549.9 679.5,549.5 680.4,548.6 681.2,547.7 682.1,545.0 683.3,545.8 684.5,546.1 685.5,544.7 686.5,545.5 687.5,545.2 688.4,547.1 689.2,548.4 690.1,550.7 691.4,550.8 692.6,554.1 693.8,553.4 695.0,552.5 695.9,554.4 696.7,555.3 697.6,557.4 698.5,556.7 699.3,557.1 700.2,557.0 701.4,561.4 702.6,562.5 703.6,563.8 704.6,563.7 705.6,567.3 706.6,570.8 707.8,568.9 709.0,570.2 709.9,567.1 710.7,566.6 711.6,565.5 712.5,563.7 713.3,562.9 714.2,563.1 715.5,559.7 716.7,556.8 717.7,552.6 718.7,551.3 719.7,547.8 720.6,545.3 721.4,543.2 722.3,540.8 723.5,537.9 724.7,536.3 725.7,536.3 726.7,536.5 727.7,535.2 728.7,533.8 729.7,533.5 730.7,534.1 731.7,533.1 732.7,534.2 733.7,532.5 734.7,535.4 735.7,536.2 736.6,538.4 737.4,537.4 738.3,538.9 739.5,542.7 740.8,546.8 742.0,549.8 743.2,554.2 744.1,554.2 744.9,555.6 745.8,557.5 746.8,556.9 747.8,556.8 748.8,555.0 749.8,556.1 750.8,558.2 751.8,560.1 752.8,560.6 753.8,561.5 754.8,560.1 755.8,558.8 756.8,557.8 757.8,559.6 758.8,559.9 759.8,562.0 760.7,562.3 761.5,564.9 762.4,567.3 763.4,567.6 764.3,570.3 765.3,571.2 766.2,570.0 767.0,569.1 767.9,570.1 768.8,568.9 769.6,568.8 770.5,569.1 771.7,567.4 772.9,568.7 773.9,566.4 774.9,566.2 775.9,565.2 776.9,560.9 777.9,557.6 778.8,557.6 779.6,555.4 780.5,552.4 781.5,555.3 782.5,558.3 783.7,559.4 784.9,558.3 785.9,557.0 786.9,557.5 787.9,556.1 788.9,558.0 790.0,559.4 791.0,560.3 792.0,562.0 793.0,560.3 794.0,562.1 795.0,562.3 796.0,562.6 797.0,562.1 798.0,557.7 799.0,554.8 800.0,552.4 801.0,554.9 802.0,557.5 803.2,558.6 804.4,559.5 805.3,559.9 806.1,559.7 807.0,558.3 807.9,558.2 808.7,560.4 809.6,560.8 810.6,560.2 811.5,561.9 812.5,562.5 813.4,563.9 814.2,563.3 815.1,564.5 816.1,562.3 817.1,560.8 818.1,560.3 819.1,559.1 820.1,559.3 821.1,557.3 822.0,556.2 822.8,557.2 823.7,556.9 824.9,556.2 826.1,557.8 827.1,556.9 828.1,557.8 829.1,557.7 830.1,554.5 831.1,552.7 832.1,552.8 833.1,554.3 834.1,554.2 835.4,552.7 836.6,552.5 837.5,552.4 838.3,555.3 839.2,556.4 840.2,555.6 841.2,554.2 842.2,553.9 843.2,555.5 844.2,554.0 845.2,555.4 846.2,556.0 847.2,556.3 848.2,556.6 849.2,556.9 850.2,555.5 851.2,554.8 852.1,556.8 852.9,556.2 853.8,556.7 854.8,550.4 855.8,547.3 856.7,544.6 857.7,543.3 858.6,541.7 859.5,542.1 860.4,539.7 861.3,538.4 862.2,537.6 863.0,535.6 863.9,535.2 864.8,534.5 865.8,534.3 866.7,534.2 867.7,529.8 868.7,526.8 869.6,526.2 870.4,525.0 871.3,524.2 872.3,522.9 873.3,524.2 874.3,522.3 875.3,521.1 876.3,520.0 877.3,519.7 878.3,519.4 879.3,517.9 880.3,517.3 881.3,516.4 882.3,516.6 883.3,515.9 884.2,515.8 885.1,514.7 886.0,514.9 887.2,516.1 888.4,517.4 889.6,518.0 890.8,519.4 891.7,517.9 892.5,517.4 893.4,517.3 894.3,516.9 895.1,517.0 896.0,518.3 897.2,518.7 898.4,520.0 899.4,522.4 900.4,522.8 901.6,520.5 902.8,518.1 903.8,515.0 904.8,510.8 905.8,507.5 906.8,507.0 907.7,506.1 908.6,507.1 909.5,507.0 910.4,508.5 911.2,510.6 912.1,513.1 913.0,512.9 914.0,511.5 914.9,512.7 916.0,512.1 917.0,513.1 918.1,513.6 919.3,512.5 920.5,513.6 921.7,514.7 922.9,516.1 923.8,513.4 924.6,511.2 925.5,510.3 926.5,506.3 927.5,502.6 928.4,504.1 929.2,504.7 930.1,505.3 931.2,506.2 932.2,507.7 933.4,505.6 934.6,504.8 935.8,501.2 937.0,499.6 937.9,498.1 938.7,498.3 939.6,497.4 940.6,496.1 941.6,495.5 942.6,494.1 943.6,495.8 944.6,494.9 945.8,492.2 947.0,492.8 948.0,490.1 949.0,489.9 949.9,489.1 950.7,489.5 951.6,488.4 952.5,488.8 953.3,489.8 954.2,487.6 955.2,486.3 956.3,483.8 957.5,486.9 958.7,490.2 959.7,489.5 960.7,489.7 961.9,491.9 963.1,493.4 964.1,493.6 965.1,495.5 966.1,498.0 967.1,499.7 968.2,498.9 969.2,498.9 970.3,499.0 971.5,499.3 972.7,499.7 973.7,497.1 974.7,493.5 975.7,492.8 976.7,489.4 977.7,488.7 978.6,487.4 979.5,485.7 980.4,486.0 981.6,484.7 982.8,483.2 984.0,482.1 985.2,480.0 986.1,479.1 986.9,477.3 987.8,476.9 988.7,474.0 989.5,472.1 990.4,471.1 991.6,469.6 992.8,469.4 993.8,473.7 994.8,474.4 996.0,473.4 997.2,470.7 998.0,469.1 998.8,467.2 999.8,470.0 1000.8,474.4 1001.8,474.7 1002.8,475.0 1003.8,475.5 1004.8,476.1 1005.9,477.6 1006.9,480.1 1007.9,483.9 1008.8,482.4 1009.6,480.9 1010.5,477.8 1011.7,480.9 1012.9,482.5 1014.1,484.9 1015.3,485.0 1016.2,487.9 1017.0,489.3 1017.9,489.7 1018.9,489.4 1019.9,486.3 1020.9,487.3 1021.9,486.4 1022.9,484.1 1023.9,483.6 1024.8,483.4 1025.6,487.1 1026.5,488.4 1027.5,490.0 1028.6,490.3 1029.8,489.2 1031.0,485.7 1032.0,485.7 1033.0,485.8 1034.0,485.6 1035.0,487.5 1036.0,487.9 1037.0,487.9 1038.0,489.2 1039.0,488.5 1040.0,490.3 1040.9,491.0 1041.8,491.8 1042.7,491.6 1043.5,489.2 1044.4,487.4 1045.3,486.9 1046.1,487.0 1047.0,486.2 1048.0,483.4 1049.0,482.3 1050.2,482.6 1051.4,484.7 1052.6,480.1 1053.8,478.2 1054.7,475.1 1055.5,471.9 1056.4,470.1 1057.4,469.6 1058.4,468.5 1059.3,469.1 1060.1,469.0 1061.0,470.2 1062.0,467.9 1063.1,467.1 1064.1,463.3 1065.1,461.8 1066.1,463.8 1067.1,464.7 1068.1,467.9 1069.1,472.2 1070.1,473.8 1071.1,476.2 1072.1,478.3 1073.1,479.0 1074.1,476.4 1075.1,475.0 1076.1,477.0 1077.1,479.8 1078.3,481.3 1079.5,484.9 1080.7,482.8 1081.9,481.7 1082.7,478.2 1083.5,474.0 1084.5,469.1 1085.5,465.1 1086.8,462.3 1088.0,459.1 1089.0,461.3 1090.0,460.9 1090.9,461.7 1091.7,463.5 1092.6,464.7 1093.6,464.5 1094.6,463.8 1095.6,463.2 1096.8,463.6 1098.0,463.6 1098.8,468.6 1099.6,473.6 1100.6,473.2 1101.6,475.1 1102.6,475.1 1103.6,476.8 1104.6,476.1 1105.6,477.5 1106.6,477.5 1107.6,475.4 1108.6,474.0 1109.6,472.8 1110.7,472.8 1111.7,470.1 1112.9,469.8 1114.1,467.5 1115.0,467.2 1115.8,464.2 1116.7,464.4 1117.7,465.0 1118.7,465.5 1119.6,463.1 1120.4,461.8 1121.3,459.5 1122.5,459.2 1123.7,459.5 1124.9,459.6 1126.1,460.4 1127.0,461.3 1127.8,464.5 1128.7,465.7 1129.6,466.1 1130.4,468.7 1131.3,468.7 1132.5,468.2 1133.7,466.1 1134.7,469.3 1135.8,471.8 1136.8,474.7 1137.7,474.1 1138.5,471.5 1139.4,470.6 1140.6,470.9 1141.8,468.8 1142.8,468.5 1143.8,468.3 1144.8,467.5 1145.8,465.6 1146.8,462.7 1147.8,464.9 1148.8,465.4" fill="none" stroke="#edc76a" stroke-width="3.3" stroke-linejoin="bevel" stroke-linecap="butt"/>
<polyline points="95.1,505.6 96.1,504.5 97.1,504.1 98.1,502.9 99.1,501.5 100.1,499.0 101.1,498.2 102.1,496.6 103.1,496.2 104.1,495.1 105.1,494.1 106.1,492.9 107.1,492.3 108.1,491.2 109.1,489.6 110.1,489.0 111.1,480.4 112.1,481.3 113.1,480.3 114.1,479.2 115.1,479.1 116.1,479.5 117.2,478.9 118.2,478.8 119.2,479.4 120.2,479.9 121.2,479.1 122.2,477.0 123.2,476.4 124.2,476.9 125.2,477.6 126.2,476.3 127.2,478.1 128.2,478.3 129.2,479.3 130.2,475.6 131.2,474.1 132.2,471.9 133.2,468.9 134.2,466.1 135.2,462.1 136.2,458.8 137.2,456.5 138.2,452.8 139.2,453.1 140.3,451.5 141.2,449.1 142.1,444.8 143.0,443.0 143.9,439.9 145.0,437.7 146.1,439.3 147.2,438.3 148.3,438.3 149.5,436.1 150.7,434.4 151.6,436.4 152.4,436.6 153.3,439.4 154.1,442.5 154.9,446.9 156.1,443.8 157.3,441.8 158.3,442.6 159.3,441.3 160.3,441.8 161.5,438.1 162.7,436.3 163.6,439.2 164.5,440.1 165.4,442.8 166.4,445.5 167.4,447.6 168.4,445.0 169.4,442.7 170.4,439.4 171.4,439.5 172.4,440.4 173.4,441.9 174.4,442.8 175.4,446.0 176.3,443.0 177.1,440.8 178.0,439.5 178.9,439.4 179.8,440.9 180.7,438.1 181.6,435.5 182.5,432.9 183.4,431.4 184.4,430.7 185.4,430.3 186.4,428.3 187.4,428.3 188.5,428.7 189.5,428.0 190.6,425.8 191.8,426.2 192.9,426.0 193.7,421.4 194.5,417.9 195.5,414.7 196.5,413.6 197.5,410.7 198.5,407.8 199.5,405.4 200.5,402.5 201.5,399.0 202.5,398.9 203.5,399.0 204.5,399.2 205.5,398.1 206.5,399.3 207.5,400.9 208.5,402.4 209.5,404.2 210.5,406.2 211.6,405.4 212.6,407.9 213.6,408.7 214.6,408.8 215.6,412.1 216.6,412.4 217.8,416.3 219.0,418.8 219.9,416.8 220.8,413.8 221.7,411.0 222.6,408.0 223.6,407.4 224.6,407.7 225.6,403.3 226.6,401.8 227.6,399.0 228.6,395.5 229.6,391.8 230.6,390.3 231.5,388.5 232.4,385.4 233.3,382.8 234.2,380.6 235.1,382.2 235.9,383.0 236.8,385.7 237.7,385.2 238.7,384.9 239.7,382.9 240.7,387.0 241.7,390.6 242.7,394.0 243.7,395.2 244.7,398.3 245.7,399.9 246.7,399.5 247.7,400.1 248.7,401.1 249.7,403.8 250.7,407.6 251.7,403.6 252.7,399.8 253.7,399.7 254.7,398.4 255.7,399.1 256.7,398.7 257.7,396.3 258.7,394.8 259.8,391.7 260.8,391.3 261.8,391.7 262.8,394.8 263.8,396.6 264.7,393.9 265.5,392.7 266.4,389.9 267.5,391.2 268.7,391.2 269.8,391.9 270.8,394.2 271.8,395.5 272.8,398.2 273.8,402.5 274.8,403.8 275.8,408.6 276.8,412.7 277.8,416.3 278.8,416.7 279.8,419.9 280.8,425.5 281.8,429.4 282.8,432.7 283.9,434.2 284.9,437.1 285.9,441.8 286.9,446.1 287.9,450.4 288.9,452.8 289.9,456.5 290.9,457.0 291.9,456.8 293.0,457.6 294.2,460.4 295.3,464.5 296.2,462.2 297.0,460.6 297.9,459.6 298.9,461.4 299.9,460.7 300.9,459.4 301.9,454.4 302.9,449.6 303.9,448.4 304.9,447.2 305.9,446.5 306.9,445.8 307.9,445.1 309.0,443.4 310.0,443.8 311.0,442.6 312.0,442.6 313.0,443.1 314.0,446.2 315.0,445.2 316.0,446.4 317.0,446.8 318.0,447.0 319.0,447.8 320.0,448.2 321.0,452.2 322.0,454.1 323.0,455.7 324.0,456.3 325.0,457.3 326.0,457.0 327.0,454.0 328.0,452.0 329.0,454.6 330.0,459.2 331.1,460.5 332.1,464.1 333.1,462.1 334.1,460.1 335.1,456.6 336.1,452.7 337.1,448.0 338.1,440.4 339.1,434.2 340.0,431.0 340.8,426.7 341.7,422.3 342.7,421.3 343.7,418.4 344.9,409.6 346.1,399.6 347.1,393.2 348.1,385.2 349.3,380.3 350.5,375.5 351.4,375.8 352.2,377.2 353.1,378.8 354.1,383.1 355.2,387.4 356.2,389.9 357.2,390.0 358.2,391.9 359.2,393.0 360.2,393.7 361.2,396.7 362.2,397.5 363.2,398.3 364.2,396.6 365.2,397.8 366.2,399.2 367.2,403.0 368.2,406.9 369.2,409.3 370.2,408.8 371.2,408.5 372.2,407.8 373.2,410.6 374.2,411.7 375.2,414.5 376.2,416.5 377.2,418.5 378.2,419.8 379.2,424.6 380.3,427.0 381.3,430.9 382.2,431.9 383.0,435.2 383.9,436.2 384.9,439.6 385.9,440.8 387.0,442.1 388.2,439.9 389.3,439.3 390.3,439.1 391.3,439.0 392.3,438.6 393.3,437.2 394.3,437.0 395.3,437.4 396.3,435.1 397.3,433.1 398.3,432.3 399.3,430.5 400.3,430.2 401.3,428.2 402.3,426.2 403.6,426.3 404.8,427.1 405.6,429.5 406.4,432.2 407.4,432.6 408.4,432.8 409.4,434.5 410.4,436.4 411.4,439.1 412.4,441.1 413.4,441.2 414.4,442.5 415.4,443.3 416.3,444.2 417.1,445.5 418.0,445.4 419.2,441.9 420.4,436.6 421.6,433.3 422.8,429.9 423.7,428.3 424.5,426.6 425.4,425.8 426.4,425.0 427.5,421.2 428.5,419.8 429.7,423.6 430.9,427.4 431.8,425.7 432.6,424.9 433.5,424.9 434.5,429.8 435.5,438.2 436.5,435.6 437.5,434.7 438.5,434.0 439.5,433.4 440.5,434.4 441.5,435.7 442.5,434.8 443.5,433.3 444.5,433.4 445.5,432.7 446.5,429.1 447.5,427.2 448.4,427.1 449.2,424.7 450.1,422.0 451.1,418.5 452.2,414.1 453.4,413.4 454.6,414.8 455.6,411.8 456.6,409.9 457.6,408.6 458.6,405.9 459.6,405.9 460.6,406.3 461.6,406.5 462.6,403.5 463.6,401.0 464.6,402.0 465.6,401.7 466.6,403.9 467.6,407.1 468.6,411.0 469.8,411.0 471.0,412.6 471.9,415.1 472.7,418.0 473.6,419.4 474.6,420.9 475.7,423.0 476.7,423.7 477.7,425.4 478.7,425.0 479.7,423.6 480.7,428.8 481.7,433.0 482.7,433.2 483.7,435.3 484.6,435.6 485.4,437.1 486.3,437.9 487.5,436.0 488.7,432.6 489.7,430.3 490.7,427.1 491.7,424.8 492.7,423.3 493.7,421.1 494.7,416.6 495.7,414.5 496.6,414.4 497.4,417.3 498.3,417.8 499.6,412.0 500.8,407.0 501.8,406.8 502.8,408.6 503.8,408.0 504.8,408.0 505.8,408.7 506.8,407.3 507.8,413.1 508.8,417.5 509.8,423.7 510.8,426.7 511.8,426.9 512.8,427.5 513.8,427.7 514.8,427.5 515.8,427.2 516.8,428.1 517.8,430.7 518.8,430.8 519.8,430.2 520.8,431.1 522.0,432.0 523.2,434.7 524.1,429.3 525.0,425.6 525.9,421.2 526.9,424.5 527.9,426.0 528.9,429.1 529.9,432.1 530.9,435.5 532.1,440.7 533.3,445.4 534.2,449.8 535.0,455.8 535.9,459.8 536.9,462.3 537.9,464.2 538.9,467.6 539.9,472.3 540.9,469.3 541.9,469.2 542.9,465.6 543.9,466.2 544.9,466.0 545.9,466.2 546.9,464.0 548.0,463.1 549.0,462.2 550.0,458.9 551.0,458.1 552.0,454.5 553.0,453.0 554.0,454.5 555.0,455.3 556.0,456.2 557.0,458.7 558.0,460.6 559.0,458.6 560.0,458.4 561.0,453.5 562.0,448.8 563.2,449.8 564.4,447.6 565.3,449.2 566.1,449.4 567.0,449.6 568.0,452.0 569.0,451.4 570.0,452.8 571.0,454.9 572.1,454.6 573.1,456.3 574.1,458.2 575.1,460.8 576.1,466.0 577.1,470.7 578.1,472.7 579.1,477.4 580.1,476.6 581.1,478.7 582.1,479.5 583.1,479.7 584.1,479.4 585.1,480.0 586.1,482.4 587.1,483.3 588.1,483.7 589.1,485.3 590.1,486.1 591.1,486.3 592.1,485.5 593.1,482.9 594.1,479.7 595.1,480.2 596.2,479.6 597.2,478.0 598.2,479.3 599.2,477.6 600.2,477.7 601.4,476.5 602.6,476.8 603.5,478.8 604.3,479.4 605.2,480.5 606.1,477.9 606.9,478.1 607.8,477.6 609.0,479.5 610.2,480.4 611.4,483.6 612.6,485.7 613.5,485.4 614.3,484.8 615.2,483.1 616.2,479.2 617.2,475.0 618.2,471.4 619.2,472.2 620.3,470.2 621.3,467.4 622.3,467.8 623.3,466.4 624.3,467.5 625.3,465.4 626.3,465.2 627.3,464.8 628.7,459.8 629.7,463.5 630.7,466.8 631.7,469.7 632.7,472.7 633.8,472.0 634.8,473.3 635.9,471.5 637.0,473.2 638.2,475.5 639.3,474.8 640.4,475.1 641.6,477.8 642.7,477.3 643.6,474.8 644.5,473.3 645.4,473.0 646.4,470.1 647.4,467.4 648.4,464.7 649.6,464.4 650.8,462.4 651.7,462.5 652.5,463.6 653.4,461.6 654.4,461.8 655.4,460.0 656.4,457.7 657.4,456.5 658.4,456.9 659.4,458.1 660.4,456.0 661.4,456.4 662.3,459.1 663.1,458.8 664.0,461.4 665.2,459.5 666.4,460.2 667.4,459.0 668.5,456.5 669.5,454.9 670.5,455.2 671.5,453.1 672.5,453.6 673.5,453.0 674.5,453.1 675.5,451.8 676.5,449.6 677.5,448.9 678.5,449.2 679.5,445.0 680.5,442.7 681.5,442.3 682.5,441.1 683.5,440.2 684.5,437.8 685.5,435.1 686.5,434.5 687.5,433.7 688.5,432.4 689.5,433.1 690.4,431.6 691.3,428.8 692.2,427.2 693.2,429.6 694.2,433.7 695.3,434.8 696.5,434.3 697.6,434.7 698.6,436.9 699.6,438.0 700.6,438.3 701.6,441.0 702.6,443.0 703.8,442.6 705.0,441.4 706.0,438.1 707.0,437.0 707.9,438.2 708.7,437.5 709.6,439.6 710.6,439.3 711.6,438.9 712.6,437.2 713.6,440.1 714.6,441.9 715.6,443.1 716.6,442.2 717.7,443.5 718.7,442.8 719.7,445.2 720.7,446.8 721.7,448.2 722.7,451.9 723.7,456.1 724.7,458.0 725.7,460.1 726.7,461.0 727.7,459.9 728.7,460.0 729.7,457.5 730.7,455.7 731.7,454.7 732.7,455.8 733.7,455.2 734.7,456.4 735.7,455.6 736.7,456.1 737.7,457.0 738.7,458.1 739.8,457.0 740.8,457.5 742.0,458.5 743.2,458.8 744.1,460.9 744.9,461.0 745.8,463.4 746.8,463.9 747.8,464.7 748.8,464.4 750.0,467.9 751.2,472.0 752.1,471.4 752.9,470.1 753.8,469.3 754.8,468.0 755.8,466.6 756.8,466.4 757.8,462.8 758.8,461.8 759.8,461.4 760.7,460.1 761.5,458.9 762.4,458.1 763.6,460.9 764.9,463.7 765.9,465.0 766.9,467.7 767.9,468.0 768.9,468.4 769.9,470.9 770.9,469.8 771.9,470.9 772.9,472.1 773.9,472.3 774.9,473.0 775.9,472.1 776.9,473.2 777.9,476.5 778.9,477.6 779.9,481.5 780.9,475.2 781.9,471.3 782.9,473.0 783.9,470.6 784.9,470.4 785.9,471.8 787.0,470.9 788.0,472.2 789.0,472.4 790.0,471.7 791.0,472.1 792.0,471.6 793.0,472.7 794.0,473.1 795.0,475.2 796.0,475.7 797.0,477.3 798.0,477.0 799.0,479.3 800.0,479.7 801.2,483.6 802.4,485.8 803.3,485.3 804.1,484.2 805.0,482.5 805.9,482.6 806.7,482.8 807.6,480.7 808.7,478.5 809.9,476.3 811.0,472.6 812.0,475.0 813.1,474.9 814.1,475.5 815.1,475.7 816.1,474.7 817.1,473.1 818.1,472.7 819.1,473.2 820.1,475.4 821.1,477.0 822.1,475.3 823.1,472.0 824.1,470.4 825.1,471.4 826.1,471.8 827.1,471.8 828.1,471.2 829.1,469.3 830.1,469.5 831.1,468.3 832.1,467.5 833.1,468.1 834.0,467.9 834.8,468.3 835.7,469.1 837.0,471.5 838.2,475.8 839.2,476.7 840.2,475.9 841.2,476.5 842.2,477.0 843.2,478.6 844.2,478.9 845.4,479.0 846.6,480.8 847.6,475.2 848.6,472.0 849.7,470.6 850.7,472.2 851.8,470.8 852.7,472.4 853.7,473.1 854.6,476.2 855.5,474.4 856.3,475.1 857.2,472.9 858.2,475.6 859.2,476.3 860.1,477.4 861.0,476.8 861.9,476.2 862.9,481.9 863.9,488.4 864.9,491.8 865.9,492.7 866.8,493.8 867.8,493.7 868.7,493.1 869.6,494.3 870.4,494.0 871.3,496.9 872.3,496.5 873.3,494.9 874.2,499.2 875.0,501.6 875.9,503.8 876.8,508.1 877.8,509.2 878.7,513.7 879.6,513.1 880.4,511.2 881.3,511.6 882.2,510.1 883.0,511.1 883.9,511.0 885.1,509.9 886.4,510.3 887.6,508.8 888.8,507.7 889.7,507.1 890.5,505.6 891.4,504.1 892.4,502.5 893.4,499.0 894.3,498.0 895.1,497.0 896.0,496.7 897.2,500.4 898.4,505.2 899.6,505.6 900.8,504.6 901.8,507.1 902.8,510.3 903.7,510.4 904.5,511.6 905.4,512.0 906.4,510.7 907.5,510.5 908.5,510.6 909.5,509.5 910.5,507.3 911.5,506.4 912.5,506.2 913.5,506.8 914.5,505.1 915.7,502.2 916.9,499.8 917.8,500.1 918.6,501.3 919.5,500.9 920.4,499.8 921.2,496.1 922.1,494.7 923.3,492.9 924.5,491.3 925.5,489.5 926.5,490.6 927.5,490.1 928.5,491.4 929.5,490.6 930.5,491.1 931.5,492.6 932.6,491.1 933.6,492.1 934.6,493.6 935.6,494.1 936.6,495.9 937.6,495.2 938.6,496.9 939.6,498.2 940.6,499.4 941.6,499.3 942.6,501.1 943.8,500.2 945.0,498.1 945.9,498.9 946.7,501.5 947.6,503.3 948.6,502.4 949.6,500.6 950.6,500.6 951.5,501.7 952.4,503.7 953.3,505.2 954.2,505.7 955.2,505.5 956.1,503.2 957.1,502.6 958.0,502.8 958.8,501.2 959.7,501.2 960.7,496.2 961.7,494.3 962.6,493.2 963.4,490.6 964.3,489.0 965.5,486.0 966.7,483.3 967.9,484.1 969.1,484.2 970.0,484.8 970.8,485.5 971.7,485.9 972.6,488.3 973.4,488.5 974.3,491.0 975.5,493.9 976.7,498.2 977.5,501.7 978.3,505.1 979.3,509.0 980.4,512.7 981.4,519.5 982.4,527.7 983.6,530.2 984.8,532.2 985.8,533.6 986.8,534.9 987.8,537.2 988.8,540.2 989.8,542.6 990.8,541.2 991.8,540.3 992.8,536.0 993.8,531.4 994.7,530.7 995.5,526.0 996.4,524.5 997.6,521.1 998.8,517.1 999.8,513.3 1000.8,511.8 1002.0,508.5 1003.2,502.4 1004.1,504.2 1005.0,505.5 1005.9,504.8 1006.8,506.7 1007.6,508.5 1008.5,509.2 1009.5,513.6 1010.5,516.2 1011.7,517.9 1012.9,517.6 1014.1,519.6 1015.3,523.2 1016.2,523.8 1017.0,527.1 1017.9,529.3 1018.9,531.6 1019.9,534.7 1020.8,535.8 1021.6,534.1 1022.5,536.4 1023.7,533.0 1024.9,528.5 1025.9,529.8 1026.9,532.1 1027.9,532.4 1028.9,533.2 1030.0,532.6 1031.0,532.1 1032.0,530.9 1033.0,529.5 1034.0,527.6 1035.0,529.1 1036.0,529.0 1037.0,528.9 1038.0,530.6 1039.0,531.6 1040.0,533.9 1040.9,537.0 1041.8,539.0 1042.7,539.7 1043.5,539.8 1044.4,540.2 1045.4,540.7 1046.4,540.0 1047.4,539.8 1048.4,536.8 1049.4,534.2 1050.4,532.3 1051.4,530.4 1052.4,529.5 1053.4,530.4 1054.4,529.9 1055.3,527.2 1056.1,526.1 1057.0,523.7 1058.2,521.5 1059.4,519.4 1060.4,521.6 1061.4,525.2 1062.5,526.3 1063.5,529.7 1064.5,532.5 1065.5,533.8 1066.5,534.1 1067.5,534.1 1068.5,533.2 1069.4,533.5 1070.2,534.0 1071.1,536.1 1072.3,536.8 1073.5,539.4 1074.5,538.5 1075.5,540.0 1076.7,537.3 1077.9,533.4 1078.9,529.5 1079.9,527.7 1080.8,527.2 1081.6,526.9 1082.5,526.8 1083.5,524.8 1084.5,525.1 1085.5,526.3 1086.5,527.2 1087.4,526.7 1088.3,524.7 1089.2,523.3 1090.1,523.8 1091.1,523.4 1092.0,522.4 1093.0,523.4 1094.0,523.7 1095.0,528.0 1096.0,528.8 1096.9,530.8 1097.7,529.9 1098.6,532.0 1099.6,532.7 1100.6,531.7 1101.5,532.0 1102.3,530.3 1103.2,529.6 1104.2,524.9 1105.2,523.1 1106.2,518.5 1107.2,516.4 1108.4,511.6 1109.6,507.7 1110.8,506.4 1112.1,506.8 1113.0,506.3 1113.8,507.4 1114.7,508.1 1115.6,508.1 1116.4,508.3 1117.3,508.9 1118.5,509.5 1119.7,510.7 1120.9,510.3 1122.1,511.2 1123.1,513.4 1124.1,515.2 1125.0,515.6 1125.8,515.4 1126.7,516.5 1127.6,517.8 1128.4,516.4 1129.3,514.9 1130.3,519.0 1131.3,519.7 1132.5,521.9 1133.7,522.1 1134.8,524.0 1135.8,527.1 1137.0,531.3 1138.2,534.1 1139.1,534.8 1139.9,535.8 1140.8,535.9 1141.7,538.3 1142.5,538.9 1143.4,539.1 1144.8,542.9 1145.8,540.7 1146.8,541.2" fill="none" stroke="#d46c6b" stroke-width="3.3" stroke-linejoin="bevel" stroke-linecap="butt"/>
<polyline points="95,692.6 96.0,692.6 97.0,692.6 98.0,692.6 99.0,692.6 100.0,692.6 101.0,692.6 102.0,692.6 103.0,692.6 104.0,692.6 105.0,692.6 106.0,692.6 107.0,692.6 108.0,692.6 109.0,692.6 110.0,692.6 111.0,692.6 112.0,692.6 113.0,692.6 114.0,692.6 115.0,692.6 116.0,692.6 117.0,692.6 118.0,692.6 119.0,692.6 120.0,692.6 121.0,692.6 122.0,692.6 123.0,692.6 124.0,692.6 125.0,692.6 126.0,692.6 127.0,692.6 128.0,692.6 129.0,692.6 130.0,692.6 131.0,692.6 132.0,692.6 133.0,692.6 134.0,692.6 135.0,692.6 136.0,692.6 137.0,692.6 138.0,692.6 139.0,692.6 140.0,692.6 141.0,692.6 142.0,692.6 143.0,692.6 144.0,692.6 145.0,692.6 146.0,692.6 147.0,692.6 148.0,692.6 149.0,692.6 150.0,692.6 151.0,692.6 152.0,692.6 153.0,692.6 154.0,692.6 155.0,692.6 156.0,692.6 157.0,692.6 158.0,692.6 159.0,692.6 160.0,692.6 161.0,692.6 162.0,692.6 163.0,692.6 164.0,692.6 165.0,692.6 166.0,692.6 167.0,692.6 168.0,692.6 169.0,692.6 170.0,692.6 171.0,692.6 172.0,692.6 173.0,692.6 174.0,692.6 175.0,692.6 176.0,692.6 177.0,692.6 178.0,692.6 179.0,692.6 180.0,692.6 181.0,692.6 182.0,692.6 183.0,692.6 184.0,692.6 185.0,692.6 186.0,692.6 187.0,692.6 188.0,692.6 189.0,692.6 190.0,692.6 191.0,692.6 192.0,692.6 193.0,692.6 194.0,692.6 195.0,692.6 196.0,692.6 197.0,692.6 198.0,692.6 199.0,692.6 200.0,692.6 201.0,692.6 202.0,692.6 203.0,692.6 204.0,692.6 205.0,692.6 206.0,692.6 207.0,692.6 208.0,692.6 209.0,692.6 210.0,692.6 211.0,692.6 212.0,692.6 213.0,692.6 214.0,692.6 215.0,692.6 216.0,692.6 217.0,692.6 218.0,692.6 219.0,692.6 220.0,692.6 221.0,692.6 222.0,692.6 223.0,692.6 224.0,692.6 225.0,692.6 226.0,692.6 227.0,692.6 228.0,692.6 229.0,692.6 230.0,692.6 231.0,692.6 232.0,692.6 233.0,692.6 234.0,692.6 235.0,692.6 236.0,692.6 237.0,692.6 238.0,692.6 239.0,692.6 240.0,692.6 241.0,692.6 242.0,692.6 243.0,692.6 244.0,692.6 245.0,692.6 246.0,692.6 247.0,692.6 248.0,692.6 249.0,692.6 250.0,692.6 251.0,692.6 252.0,692.6 253.0,692.6 254.0,692.6 255.0,692.6 256.0,692.6 257.0,692.6 258.0,692.6 259.0,692.6 260.0,692.6 261.0,692.6 262.0,692.6 263.0,692.6 264.0,692.6 265.0,692.6 266.0,692.6 267.0,692.6 268.0,692.6 269.0,692.6 270.0,692.6 271.0,692.6 272.0,692.6 273.0,692.6 274.0,692.6 275.0,692.6 276.0,692.6 277.0,692.6 278.0,692.6 279.0,692.6 280.0,692.6 281.0,692.6 282.0,692.6 283.0,692.6 284.0,692.6 285.0,692.6 286.0,692.6 287.0,692.6 288.0,692.6 289.0,692.6 290.0,692.6 291.0,692.6 292.0,692.6 293.0,692.6 294.0,692.6 295.0,692.6 296.0,692.6 297.0,692.6 298.0,692.6 299.0,692.6 300.0,692.6 301.0,692.6 302.0,692.6 303.0,692.6 304.0,692.6 305.0,692.6 306.0,692.6 307.0,692.6 308.0,692.6 309.0,692.6 310.0,692.6 311.0,692.6 312.0,692.6 313.0,692.6 314.0,692.6 315.0,692.6 316.0,692.6 317.0,692.6 318.0,692.6 319.0,692.6 320.0,692.6 321.0,692.6 322.0,692.6 323.0,692.6 324.0,692.6 325.0,692.6 326.0,692.6 327.0,692.6 328.0,692.6 329.0,692.6 330.0,692.6 331.0,692.6 332.0,692.6 333.0,692.6 334.0,692.6 335.0,692.6 336.0,692.6 337.0,692.6 338.0,692.6 339.0,692.6 340.0,692.6 341.0,692.6 342.0,692.6 343.0,692.6 344.0,692.6 345.0,692.6 346.0,692.6 347.0,692.6 348.0,692.6 349.0,692.6 350.0,692.6 351.0,692.6 352.0,692.6 353.0,692.6 354.0,692.6 355.0,692.6 356.0,692.6 357.0,692.6 358.0,692.6 359.0,692.6 360.0,692.6 361.0,692.6 362.0,692.6 363.0,692.6 364.0,692.6 365.0,692.6 366.0,692.6 367.0,692.6 368.0,692.6 369.0,692.6 370.0,692.6 371.0,692.6 372.0,692.6 373.0,692.6 374.0,692.6 375.0,692.6 376.0,692.6 377.0,692.6 378.0,692.6 379.0,692.6 380.0,692.6 381.0,692.6 382.0,692.6 383.0,692.6 384.0,692.6 385.0,692.6 386.0,692.6 387.0,692.6 388.0,692.6 389.0,692.6 390.0,692.6 391.0,692.6 392.0,692.6 393.0,692.6 394.0,692.6 395.0,692.6 396.0,692.6 397.0,692.6 398.0,692.6 399.0,692.6 400.0,692.6 401.0,692.6 402.0,692.6 403.0,692.6 404.0,692.6 405.0,692.6 406.0,692.6 407.0,692.6 408.0,692.6 409.0,692.6 410.0,692.6 411.0,692.6 412.0,692.6 413.0,692.6 414.0,692.6 415.0,692.6 416.0,692.6 417.0,692.6 418.0,692.6 419.0,692.6 420.0,692.6 421.0,692.6 422.0,692.6 423.0,692.6 424.0,692.6 425.0,692.6 426.0,692.6 427.0,692.6 428.0,692.6 428.8,692.6 429.5,692.6 430.5,690.2 431.5,690.5 432.5,687.6 433.5,687.5 434.5,686.7 435.5,685.8 436.5,683.8 437.5,684.2 438.5,683.9 439.5,682.7 440.5,681.3 441.5,679.6 442.5,679.6 443.5,679.3 444.5,677.5 445.5,677.9 446.5,678.1 447.5,677.6 448.5,678.3 449.5,677.5 450.5,677.5 451.5,678.4 452.6,677.9 453.6,676.6 454.6,675.9 455.6,674.6 456.6,674.6 457.6,675.0 458.6,672.9 459.6,671.4 460.6,670.5 461.6,669.5 462.6,669.1 463.6,666.9 464.6,667.0 465.6,665.9 466.6,664.1 467.6,663.8 468.6,666.3 469.6,667.6 470.6,666.4 471.6,666.1 472.6,666.1 473.6,668.0 474.6,667.2 475.6,669.5 476.6,669.4 477.7,669.7 478.7,670.9 479.6,671.4 480.5,671.9 481.4,672.4 482.3,671.9 483.4,671.1 484.6,670.6 485.7,670.7 486.7,670.8 487.7,670.8 488.7,669.8 489.7,668.6 490.7,669.2 491.7,669.7 492.7,670.3 493.7,669.9 494.7,670.6 495.7,670.9 496.7,673.6 497.7,674.2 498.7,674.5 499.7,674.9 500.7,674.2 501.8,673.5 502.8,673.0 503.8,671.8 504.8,671.1 505.8,672.0 506.8,671.0 507.8,670.2 508.8,669.2 509.8,668.3 510.8,667.0 511.8,667.8 512.8,665.6 513.8,666.8 514.8,666.6 515.8,666.9 516.8,667.7 517.8,666.6 518.8,668.5 519.8,668.1 520.8,668.7 521.8,669.1 522.8,670.9 523.9,671.1 524.9,671.6 525.9,672.4 526.9,675.2 527.9,676.3 528.9,678.1 529.9,678.8 530.9,679.5 531.9,678.3 532.9,677.9 533.9,675.9 534.9,676.7 535.9,674.7 536.9,675.2 537.9,673.5 538.9,672.1 539.9,671.6 540.9,669.4 541.9,668.8 542.9,669.1 543.9,668.3 544.9,668.2 545.9,666.6 546.9,664.6 547.9,665.8 549.0,666.7 550.0,667.4 551.0,667.4 552.0,667.6 553.0,667.2 554.0,666.3 555.0,666.5 556.0,666.3 557.0,666.3 558.0,668.3 559.0,668.9 560.0,669.9 561.0,669.2 562.0,668.8 563.0,667.9 563.9,666.1 564.7,665.9 565.6,666.6 566.8,667.4 568.0,669.6 569.0,670.4 570.0,669.9 571.0,670.6 572.0,670.4 573.1,669.6 574.1,669.5 575.1,669.1 576.1,671.3 577.1,672.2 578.0,671.1 578.8,672.8 579.7,674.9 580.8,672.4 582.0,672.8 583.1,671.9 584.1,671.7 585.1,671.0 586.1,669.1 587.1,669.6 588.1,669.3 589.1,668.1 590.0,669.1 590.8,668.5 591.7,670.7 592.9,669.6 594.1,667.8 595.4,666.6 596.6,666.7 597.5,668.9 598.3,668.9 599.2,670.6 600.1,671.5 600.9,672.4 601.8,672.2 602.7,672.7 603.7,672.8 604.6,673.9 605.5,672.9 606.3,674.3 607.2,672.2 608.1,675.6 608.9,675.1 609.8,677.3 610.7,677.9 611.7,678.1 612.6,677.8 613.7,679.0 614.7,677.5 615.8,678.2 616.7,677.7 617.7,677.6 618.6,677.2 619.7,676.4 620.8,677.2 621.9,674.9 623.1,677.9 624.3,678.1 625.3,678.2 626.3,678.2 627.3,676.1 628.3,677.8 629.3,677.6 630.3,676.4 631.5,678.7 632.7,680.5 633.6,681.4 634.4,682.9 635.3,684.8 636.3,685.1 637.3,685.5 638.3,685.6 639.5,688.5 640.7,689.4 641.6,689.2 642.4,690.9 643.3,691.3 644.3,692.6 645.4,692.6 646.4,692.6 647.4,692.6 648.4,692.6 649.4,692.6 650.4,692.6 651.4,692.6 652.4,692.6 653.4,692.6 654.4,692.6 655.4,692.6 656.4,692.6 657.4,692.6 658.4,692.1 659.4,690.6 660.4,690.4 661.4,690.2 662.4,689.2 663.4,689.8 664.4,687.0 665.4,686.9 666.4,687.2 667.5,684.7 668.5,684.3 669.5,684.1 670.5,682.9 671.5,682.7 672.5,682.0 673.5,681.3 674.5,680.6 675.5,679.4 676.5,678.9 677.5,678.5 678.5,679.0 679.5,676.2 680.5,676.8 681.5,675.9 682.5,674.5 683.5,672.8 684.5,673.3 685.5,671.6 686.5,670.8 687.5,670.7 688.5,670.0 689.5,669.6 690.5,667.8 691.6,666.9 692.6,666.6 693.6,664.9 694.6,665.4 695.6,662.8 696.6,663.0 697.6,663.7 698.6,661.5 699.6,662.5 700.6,661.4 701.6,662.9 702.6,660.9 703.6,660.6 704.6,660.7 705.8,659.0 707.0,658.6 707.9,660.6 708.7,661.0 709.6,662.9 710.6,663.3 711.6,665.5 712.6,665.1 713.6,664.5 714.6,664.5 715.6,666.0 716.7,664.7 717.7,667.0 718.7,665.3 719.7,666.6 720.7,665.4 721.7,667.2 722.7,668.3 723.7,668.0 724.6,668.3 725.4,666.8 726.3,666.8 727.5,667.6 728.7,667.2 729.7,668.0 730.7,669.4 731.7,670.3 732.7,670.6 733.7,669.5 734.7,668.8 735.7,667.9 736.7,665.3 737.7,666.4 738.7,668.0 739.7,668.1 740.8,669.2 741.8,670.4 742.7,669.6 743.5,668.7 744.4,668.2 745.6,668.7 746.8,669.1 747.8,670.0 748.8,670.8 749.8,672.1 750.8,672.5 751.8,672.3 752.8,671.7 753.8,672.3 754.8,669.6 755.8,668.8 756.8,668.0 757.8,667.3 758.8,666.3 759.8,666.4 760.8,667.4 761.8,666.9 762.8,667.2 763.9,667.1 764.9,667.4 766.1,669.3 767.3,668.0 768.2,668.3 769.0,668.4 769.9,667.7 770.8,667.3 771.6,668.1 772.5,669.4 773.9,669.3 774.9,668.3 775.9,665.3 776.9,663.1 777.9,661.4 778.9,658.6 779.9,658.1 780.9,656.0 781.9,653.3 782.8,654.2 783.6,653.4 784.5,652.7 785.7,653.9 786.9,654.1 787.9,654.6 789.0,653.0 790.0,654.3 790.9,653.2 791.7,651.4 792.6,650.7 793.8,648.0 795.0,646.4 796.2,644.8 797.4,642.7 798.3,640.7 799.1,641.9 800.0,640.9 801.0,641.1 802.0,638.6 803.2,636.4 804.4,635.0 805.4,634.0 806.4,635.4 807.4,637.8 808.4,637.8 809.3,638.1 810.1,638.9 811.0,639.3 811.9,639.0 812.8,639.7 813.7,641.3 814.9,640.6 816.1,639.1 817.1,639.0 818.1,639.9 819.1,642.3 820.0,641.3 820.8,639.9 821.7,638.8 822.9,637.1 824.1,636.9 825.1,637.1 826.1,635.6 827.1,634.9 828.1,636.6 829.1,636.8 830.1,635.8 831.1,634.1 832.1,634.7 833.1,632.7 834.0,631.5 834.8,630.7 835.7,629.7 836.7,629.5 837.6,629.5 838.6,628.4 839.7,630.6 840.7,632.0 841.8,632.4 843.0,633.0 844.2,630.8 845.4,631.6 846.6,630.3 847.7,630.5 848.7,631.4 849.8,634.1 850.7,635.0 851.7,638.1 852.6,640.1 853.7,640.0 854.7,638.9 855.8,638.4 856.7,638.3 857.7,639.3 858.6,638.0 859.5,636.2 860.4,636.3 861.3,635.8 862.2,634.0 863.0,631.8 863.9,629.4 864.8,629.3 865.8,628.3 866.7,627.5 867.6,627.1 868.4,625.0 869.3,625.3 870.3,622.9 871.3,623.5 872.3,621.8 873.3,623.1 874.3,624.4 875.3,625.8 876.2,625.4 877.0,625.4 877.9,624.8 879.1,626.1 880.3,628.3 881.5,629.1 882.7,631.3 883.8,631.0 884.9,630.6 886.0,630.1 887.2,630.2 888.4,631.1 889.4,633.4 890.4,634.4 891.4,634.8 892.3,635.4 893.1,636.0 894.0,636.6 895.2,637.3 896.4,637.0 897.4,636.0 898.4,636.5 899.4,635.4 900.4,634.7 901.4,633.3 902.4,634.0 903.4,630.4 904.4,628.8 905.4,625.9 906.4,622.4 907.6,621.8 908.9,620.1 909.8,620.2 910.6,620.4 911.5,621.4 912.4,619.1 913.2,620.4 914.1,618.2 915.3,617.6 916.5,618.0 917.7,620.3 918.9,621.6 919.8,623.5 920.6,625.4 921.5,625.7 922.4,626.5 923.2,629.4 924.1,629.1 925.3,632.6 926.5,635.8 927.5,637.9 928.5,641.3 929.5,645.1 930.5,648.0 931.8,648.7 933.0,650.8 933.9,652.0 934.7,652.5 935.6,654.7 936.5,655.5 937.3,658.6 938.2,660.3 939.4,660.0 940.6,659.4 941.6,657.3 942.6,655.1 943.8,651.7 945.0,651.2 945.9,650.5 946.7,649.5 947.6,650.0 948.5,651.2 949.3,652.3 950.2,652.1 951.4,651.9 952.6,652.6 953.6,651.1 954.6,649.8 955.6,650.0 956.7,651.2 957.7,651.3 958.7,652.5 959.7,652.0 960.7,653.7 961.7,652.8 962.7,653.4 963.7,654.5 964.6,653.1 965.4,651.7 966.3,652.2 967.2,652.1 968.2,650.5 969.1,651.8 970.0,651.4 970.8,649.3 971.7,649.1 972.7,647.4 973.7,646.8 974.7,647.0 975.7,643.7 976.7,641.6 977.7,641.0 978.7,639.4 979.7,637.5 980.6,636.4 981.5,635.8 982.4,635.5 983.6,634.3 984.8,634.6 985.8,634.2 986.8,632.3 987.8,631.2 988.8,632.2 989.8,630.7 990.8,631.3 992.0,631.7 993.2,632.5 994.2,631.5 995.2,630.0 996.1,630.6 996.9,632.7 997.8,633.0 998.8,633.4 999.8,633.1 1000.8,631.5 1001.8,632.4 1002.8,632.3 1003.8,632.0 1004.8,631.0 1005.9,628.9 1006.9,628.5 1007.9,627.7 1008.9,625.6 1009.9,627.1 1010.9,626.7 1011.9,625.3 1012.9,623.9 1014.1,622.3 1015.3,619.7 1016.2,621.9 1017.0,621.4 1017.9,624.3 1018.9,623.5 1019.9,625.2 1020.9,625.0 1021.9,623.8 1022.9,625.2 1023.9,624.6 1024.9,624.2 1025.9,624.8 1026.9,625.5 1027.9,626.4 1029.0,626.9 1030.0,626.7 1031.0,627.6 1032.2,626.5 1033.4,624.8 1034.5,623.8 1035.5,624.3 1036.6,624.4 1037.7,624.6 1038.9,624.2 1040.0,624.9 1041.2,623.4 1042.4,622.6 1043.3,622.9 1044.1,621.9 1045.0,622.0 1046.0,620.3 1047.0,618.7 1048.2,618.2 1049.4,615.6 1050.6,616.2 1051.8,615.9 1052.7,617.5 1053.5,618.0 1054.4,618.8 1055.4,620.5 1056.4,622.2 1057.3,624.3 1058.1,625.2 1059.0,627.7 1060.2,627.8 1061.4,627.4 1062.7,627.4 1063.9,626.9 1064.8,624.6 1065.6,624.7 1066.5,624.7 1067.4,624.0 1068.2,623.9 1069.1,624.4 1070.1,620.7 1071.1,616.4 1072.3,613.5 1073.5,610.5 1074.7,607.3 1075.9,607.2 1076.8,605.0 1077.6,605.2 1078.5,605.6 1079.4,602.8 1080.2,602.0 1081.1,600.1 1082.3,601.4 1083.5,601.3 1084.5,600.7 1085.5,603.1 1086.5,603.7 1087.4,602.3 1088.3,602.9 1089.2,603.0 1090.4,602.1 1091.6,601.3 1092.8,602.0 1094.0,601.6 1094.9,604.1 1095.7,604.6 1096.6,605.4 1097.5,605.6 1098.3,606.9 1099.2,608.7 1100.4,611.7 1101.6,612.8 1102.6,613.9 1103.6,614.6 1104.6,615.0 1105.6,617.0 1106.6,619.8 1108.0,622.3 1109.0,620.2 1110.0,618.5 1110.9,618.1 1111.8,618.1 1112.7,616.5 1113.7,618.7 1114.7,618.1 1115.6,615.5 1116.4,615.4 1117.3,613.1 1118.3,610.5 1119.3,608.7 1120.5,609.2 1121.7,609.9 1122.9,608.7 1124.1,606.8 1124.9,611.6 1125.7,613.2 1126.7,613.1 1127.7,612.9 1128.7,609.4 1129.7,607.5 1130.7,607.6 1131.7,608.2 1132.9,609.7 1134.1,612.7 1135.0,613.2 1135.9,614.0 1136.8,614.7 1137.7,614.0 1138.5,614.4 1139.4,613.8 1140.6,611.6 1141.8,609.9 1143.0,609.7 1144.2,610.2 1145.1,609.7 1145.9,611.4 1146.8,610.1 1147.8,612.6" fill="none" stroke="#82b7d9" stroke-width="3.3" stroke-linejoin="bevel" stroke-linecap="butt"/>
<line x1="222.8" x2="265.8" y1="29.3" y2="29.3" stroke="#5a6ec0" stroke-width="3.2"/><circle cx="244.3" cy="29.3" r="9.0" fill="#5a6ec0"/><text x="274.2" y="33.7" class="lg" textLength="129.5" lengthAdjust="spacingAndGlyphs">Foundry USA</text><line x1="422.4" x2="465.4" y1="29.3" y2="29.3" stroke="#9cc87f" stroke-width="3.2"/><circle cx="443.9" cy="29.3" r="9.0" fill="#9cc87f"/><text x="474.6" y="33.7" class="lg" textLength="78" lengthAdjust="spacingAndGlyphs">AntPool</text><line x1="570.5" x2="613.5" y1="29.3" y2="29.3" stroke="#edc76a" stroke-width="3.2"/><circle cx="592" cy="29.3" r="9.0" fill="#edc76a"/><text x="623.2" y="33.7" class="lg" textLength="67" lengthAdjust="spacingAndGlyphs">ViaBTC</text><line x1="707.7" x2="750.7" y1="29.3" y2="29.3" stroke="#d46c6b" stroke-width="3.2"/><circle cx="729.2" cy="29.3" r="9.0" fill="#d46c6b"/><text x="758.6" y="33.7" class="lg" textLength="67.5" lengthAdjust="spacingAndGlyphs">F2Pool</text><line x1="844.3" x2="887.3" y1="29.3" y2="29.3" stroke="#82b7d9" stroke-width="3.2"/><circle cx="865.8" cy="29.3" r="9.0" fill="#82b7d9"/><text x="895.0" y="33.7" class="lg" textLength="112.5" lengthAdjust="spacingAndGlyphs">MARA Pool</text>
</svg>
</body></html>
